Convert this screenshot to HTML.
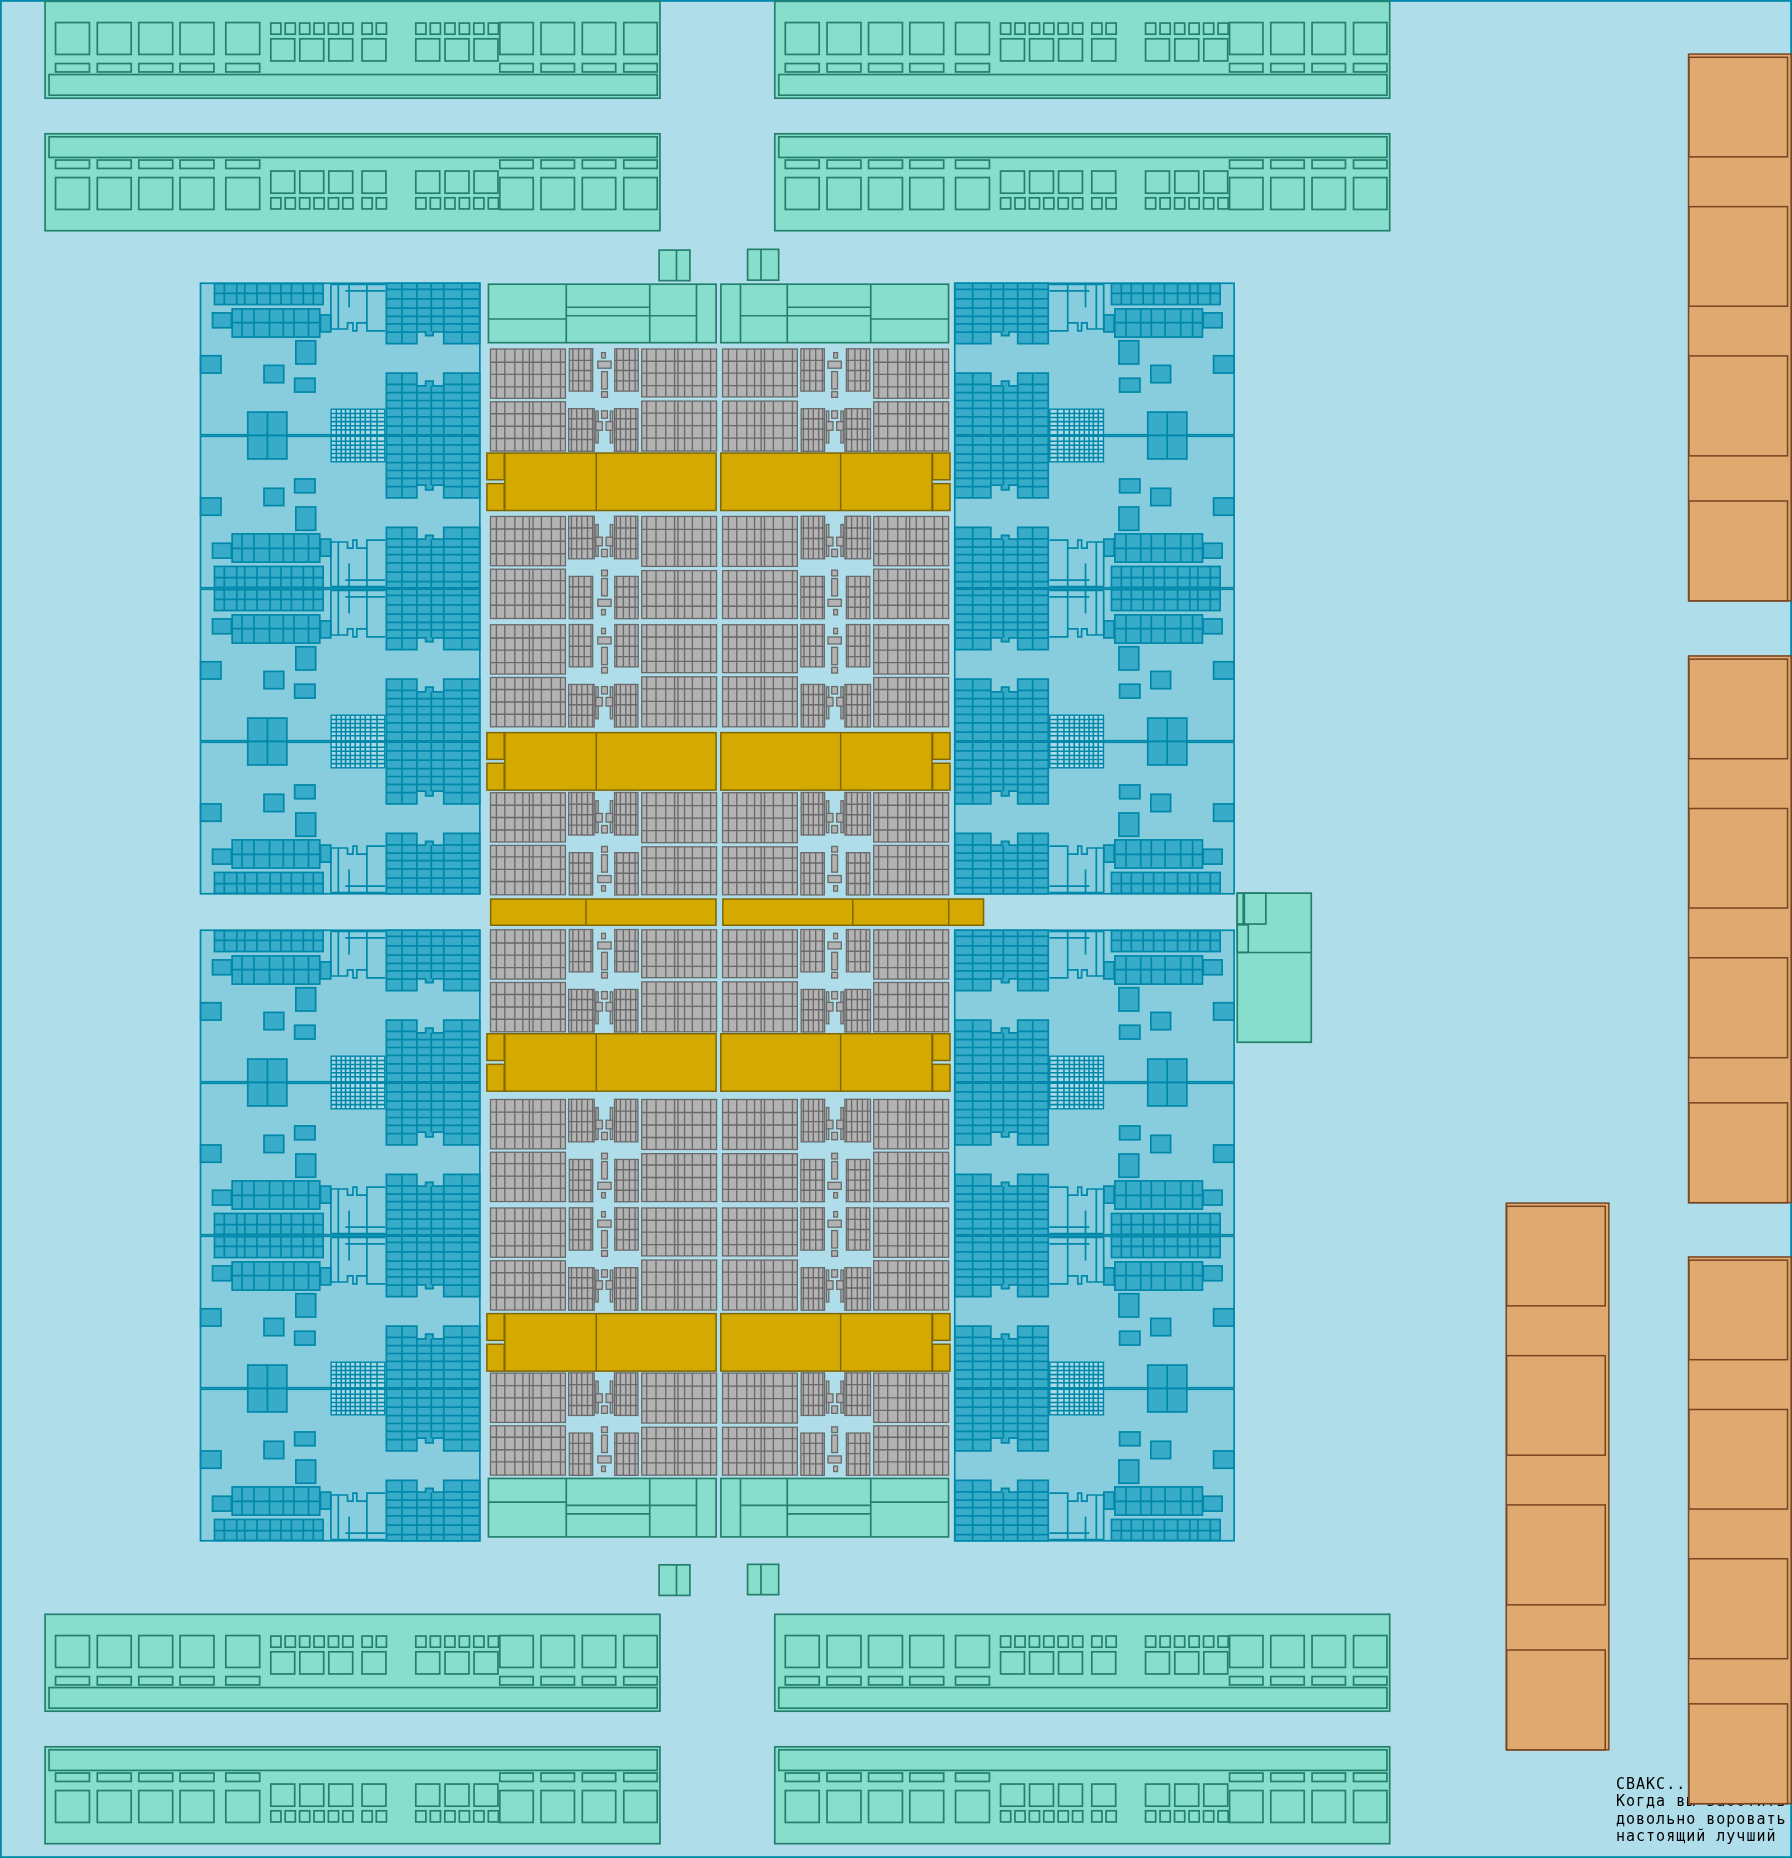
<!DOCTYPE html>
<html lang="ru"><head><meta charset="utf-8"><title>floorplan</title><style>
html,body{margin:0;padding:0;background:#afdde9;}
body{width:1792px;height:1858px;overflow:hidden;}
svg{display:block;will-change:transform}
.bo{fill:#87cdde}
.bl{fill:none}
.gl{fill:none;stroke-width:1.35}
.fg{fill:#abdbe7;stroke-width:1.4}
.fl{fill:none;stroke-width:1.55}
.t{font-family:"DejaVu Sans Mono","Liberation Mono",monospace;font-size:15px;letter-spacing:1px;fill:#000;stroke:none}
</style></head><body><svg width="1792" height="1858" viewBox="0 0 1792 1858"><rect x="0" y="0" width="1792" height="1858" fill="#afdde9"/><rect x=".9" y=".9" width="1790.2" height="1856.2" fill="none" stroke="#0088aa" stroke-width="1.8"/><g fill="#37abc8" stroke="#0088aa" stroke-width="1.7"><g transform="translate(199.75,282.5)"><g><rect class="bo" x="0.75" y="0.75" width="279.35" height="151.5"/><rect x="14.7" y="1.15" width="108.7" height="20.9"/><path class="bl" d="M24.55 1.15V22.05M37.05 1.15V22.05M45.05 1.15V22.05M57.25 1.15V22.05M70.4 1.15V22.05M81.25 1.15V22.05M91.65 1.15V22.05M103.55 1.15V22.05M113.55 1.15V22.05M14.7 10.95H123.4"/><rect x="12.75" y="30.4" width="18.9" height="14.85"/><rect x="120.75" y="32.4" width="10.25" height="17"/><rect x="32.4" y="26.4" width="87.6" height="28.2"/><path class="bl" d="M42.25 26.4V54.6M54.15 26.4V54.6M69.75 26.4V54.6M83.55 26.4V54.6M94.15 26.4V54.6M108.75 26.4V54.6M32.4 40.2H120"/><path class="bl" d="M131.15 1.9V46.5M138.55 1.9V46.5M131.15 46.5H147.75V40.3H153.25V48.3H157.05V40.3H167.15M167.15 1.9V48.3H185.45M145.45 8.4H185.45M149.35 1.9V25.1M131.15 1.9H185.45"/><path d="M186.6 .75H279.9V61.15H244V49.3H233.35V53.15H225.85V49.3H217.15V61.15H186.6Z"/><path class="bl" d="M202.15 .75V61.15M217.15 .75V49.3M231.5 .75V49.3M244 .75V49.3M262.15 .75V61.15M186.6 6.9H279.9M186.6 16.3H279.9M186.6 25.65H279.9M186.6 33.8H279.9M186.6 41.3H279.9M186.6 49.65H217.15M244 49.65H279.9"/><path d="M186.6 152.25H279.9V90.65H244V103.3H233.35V98.65H225.85V103.3H217.15V90.65H186.6Z"/><path class="bl" d="M202.15 152.25V90.65M217.15 152.25V103.3M231.5 152.25V103.3M244 152.25V103.3M262.15 152.25V90.65M186.6 110.15H279.9M186.6 118H279.9M186.6 125.9H279.9M186.6 134.3H279.9M186.6 143.65H279.9M186.6 101.8H217.15M244 101.8H279.9"/><rect x="96.1" y="58.25" width="19.8" height="23.25"/><rect x="0.95" y="73.25" width="20.3" height="17.3"/><rect x="64.25" y="82.9" width="19.75" height="17.3"/><rect x="94.9" y="95.75" width="20.35" height="13.8"/><rect x="48" y="129.55" width="39.1" height="23.45"/><path class="bl" d="M67.65 129.5V153"/><rect class="fg" x="131.4" y="126.7" width="53.65" height="25.7"/><path class="fl" d="M136.6 126.6V153M141.5 126.6V153M145.8 126.6V153M150.5 126.6V153M155.4 126.6V153M160.6 126.6V153M165.5 126.6V153M170.9 126.6V153M177.3 126.6V153M131.3 130.9H185.15M131.3 135H185.15M131.3 139.1H185.15M131.3 143.2H185.15M131.3 147.3H185.15M131.3 152.4H185.15"/></g><g transform="translate(0,306) scale(1,-1)"><rect class="bo" x="0.75" y="0.75" width="279.35" height="151.5"/><rect x="14.7" y="1.15" width="108.7" height="20.9"/><path class="bl" d="M24.55 1.15V22.05M37.05 1.15V22.05M45.05 1.15V22.05M57.25 1.15V22.05M70.4 1.15V22.05M81.25 1.15V22.05M91.65 1.15V22.05M103.55 1.15V22.05M113.55 1.15V22.05M14.7 10.95H123.4"/><rect x="12.75" y="30.4" width="18.9" height="14.85"/><rect x="120.75" y="32.4" width="10.25" height="17"/><rect x="32.4" y="26.4" width="87.6" height="28.2"/><path class="bl" d="M42.25 26.4V54.6M54.15 26.4V54.6M69.75 26.4V54.6M83.55 26.4V54.6M94.15 26.4V54.6M108.75 26.4V54.6M32.4 40.2H120"/><path class="bl" d="M131.15 1.9V46.5M138.55 1.9V46.5M131.15 46.5H147.75V40.3H153.25V48.3H157.05V40.3H167.15M167.15 1.9V48.3H185.45M145.45 8.4H185.45M149.35 1.9V25.1M131.15 1.9H185.45"/><path d="M186.6 .75H279.9V61.15H244V49.3H233.35V53.15H225.85V49.3H217.15V61.15H186.6Z"/><path class="bl" d="M202.15 .75V61.15M217.15 .75V49.3M231.5 .75V49.3M244 .75V49.3M262.15 .75V61.15M186.6 6.9H279.9M186.6 16.3H279.9M186.6 25.65H279.9M186.6 33.8H279.9M186.6 41.3H279.9M186.6 49.65H217.15M244 49.65H279.9"/><path d="M186.6 152.25H279.9V90.65H244V103.3H233.35V98.65H225.85V103.3H217.15V90.65H186.6Z"/><path class="bl" d="M202.15 152.25V90.65M217.15 152.25V103.3M231.5 152.25V103.3M244 152.25V103.3M262.15 152.25V90.65M186.6 110.15H279.9M186.6 118H279.9M186.6 125.9H279.9M186.6 134.3H279.9M186.6 143.65H279.9M186.6 101.8H217.15M244 101.8H279.9"/><rect x="96.1" y="58.25" width="19.8" height="23.25"/><rect x="0.95" y="73.25" width="20.3" height="17.3"/><rect x="64.25" y="82.9" width="19.75" height="17.3"/><rect x="94.9" y="95.75" width="20.35" height="13.8"/><rect x="48" y="129.55" width="39.1" height="23.45"/><path class="bl" d="M67.65 129.5V153"/><rect class="fg" x="131.4" y="126.7" width="53.65" height="25.7"/><path class="fl" d="M136.6 126.6V153M141.5 126.6V153M145.8 126.6V153M150.5 126.6V153M155.4 126.6V153M160.6 126.6V153M165.5 126.6V153M170.9 126.6V153M177.3 126.6V153M131.3 130.9H185.15M131.3 135H185.15M131.3 139.1H185.15M131.3 143.2H185.15M131.3 147.3H185.15M131.3 152.4H185.15"/></g><g transform="translate(0,306)"><rect class="bo" x="0.75" y="0.75" width="279.35" height="151.5"/><rect x="14.7" y="1.15" width="108.7" height="20.9"/><path class="bl" d="M24.55 1.15V22.05M37.05 1.15V22.05M45.05 1.15V22.05M57.25 1.15V22.05M70.4 1.15V22.05M81.25 1.15V22.05M91.65 1.15V22.05M103.55 1.15V22.05M113.55 1.15V22.05M14.7 10.95H123.4"/><rect x="12.75" y="30.4" width="18.9" height="14.85"/><rect x="120.75" y="32.4" width="10.25" height="17"/><rect x="32.4" y="26.4" width="87.6" height="28.2"/><path class="bl" d="M42.25 26.4V54.6M54.15 26.4V54.6M69.75 26.4V54.6M83.55 26.4V54.6M94.15 26.4V54.6M108.75 26.4V54.6M32.4 40.2H120"/><path class="bl" d="M131.15 1.9V46.5M138.55 1.9V46.5M131.15 46.5H147.75V40.3H153.25V48.3H157.05V40.3H167.15M167.15 1.9V48.3H185.45M145.45 8.4H185.45M149.35 1.9V25.1M131.15 1.9H185.45"/><path d="M186.6 .75H279.9V61.15H244V49.3H233.35V53.15H225.85V49.3H217.15V61.15H186.6Z"/><path class="bl" d="M202.15 .75V61.15M217.15 .75V49.3M231.5 .75V49.3M244 .75V49.3M262.15 .75V61.15M186.6 6.9H279.9M186.6 16.3H279.9M186.6 25.65H279.9M186.6 33.8H279.9M186.6 41.3H279.9M186.6 49.65H217.15M244 49.65H279.9"/><path d="M186.6 152.25H279.9V90.65H244V103.3H233.35V98.65H225.85V103.3H217.15V90.65H186.6Z"/><path class="bl" d="M202.15 152.25V90.65M217.15 152.25V103.3M231.5 152.25V103.3M244 152.25V103.3M262.15 152.25V90.65M186.6 110.15H279.9M186.6 118H279.9M186.6 125.9H279.9M186.6 134.3H279.9M186.6 143.65H279.9M186.6 101.8H217.15M244 101.8H279.9"/><rect x="96.1" y="58.25" width="19.8" height="23.25"/><rect x="0.95" y="73.25" width="20.3" height="17.3"/><rect x="64.25" y="82.9" width="19.75" height="17.3"/><rect x="94.9" y="95.75" width="20.35" height="13.8"/><rect x="48" y="129.55" width="39.1" height="23.45"/><path class="bl" d="M67.65 129.5V153"/><rect class="fg" x="131.4" y="126.7" width="53.65" height="25.7"/><path class="fl" d="M136.6 126.6V153M141.5 126.6V153M145.8 126.6V153M150.5 126.6V153M155.4 126.6V153M160.6 126.6V153M165.5 126.6V153M170.9 126.6V153M177.3 126.6V153M131.3 130.9H185.15M131.3 135H185.15M131.3 139.1H185.15M131.3 143.2H185.15M131.3 147.3H185.15M131.3 152.4H185.15"/></g><g transform="translate(0,612) scale(1,-1)"><rect class="bo" x="0.75" y="0.75" width="279.35" height="151.5"/><rect x="14.7" y="1.15" width="108.7" height="20.9"/><path class="bl" d="M24.55 1.15V22.05M37.05 1.15V22.05M45.05 1.15V22.05M57.25 1.15V22.05M70.4 1.15V22.05M81.25 1.15V22.05M91.65 1.15V22.05M103.55 1.15V22.05M113.55 1.15V22.05M14.7 10.95H123.4"/><rect x="12.75" y="30.4" width="18.9" height="14.85"/><rect x="120.75" y="32.4" width="10.25" height="17"/><rect x="32.4" y="26.4" width="87.6" height="28.2"/><path class="bl" d="M42.25 26.4V54.6M54.15 26.4V54.6M69.75 26.4V54.6M83.55 26.4V54.6M94.15 26.4V54.6M108.75 26.4V54.6M32.4 40.2H120"/><path class="bl" d="M131.15 1.9V46.5M138.55 1.9V46.5M131.15 46.5H147.75V40.3H153.25V48.3H157.05V40.3H167.15M167.15 1.9V48.3H185.45M145.45 8.4H185.45M149.35 1.9V25.1M131.15 1.9H185.45"/><path d="M186.6 .75H279.9V61.15H244V49.3H233.35V53.15H225.85V49.3H217.15V61.15H186.6Z"/><path class="bl" d="M202.15 .75V61.15M217.15 .75V49.3M231.5 .75V49.3M244 .75V49.3M262.15 .75V61.15M186.6 6.9H279.9M186.6 16.3H279.9M186.6 25.65H279.9M186.6 33.8H279.9M186.6 41.3H279.9M186.6 49.65H217.15M244 49.65H279.9"/><path d="M186.6 152.25H279.9V90.65H244V103.3H233.35V98.65H225.85V103.3H217.15V90.65H186.6Z"/><path class="bl" d="M202.15 152.25V90.65M217.15 152.25V103.3M231.5 152.25V103.3M244 152.25V103.3M262.15 152.25V90.65M186.6 110.15H279.9M186.6 118H279.9M186.6 125.9H279.9M186.6 134.3H279.9M186.6 143.65H279.9M186.6 101.8H217.15M244 101.8H279.9"/><rect x="96.1" y="58.25" width="19.8" height="23.25"/><rect x="0.95" y="73.25" width="20.3" height="17.3"/><rect x="64.25" y="82.9" width="19.75" height="17.3"/><rect x="94.9" y="95.75" width="20.35" height="13.8"/><rect x="48" y="129.55" width="39.1" height="23.45"/><path class="bl" d="M67.65 129.5V153"/><rect class="fg" x="131.4" y="126.7" width="53.65" height="25.7"/><path class="fl" d="M136.6 126.6V153M141.5 126.6V153M145.8 126.6V153M150.5 126.6V153M155.4 126.6V153M160.6 126.6V153M165.5 126.6V153M170.9 126.6V153M177.3 126.6V153M131.3 130.9H185.15M131.3 135H185.15M131.3 139.1H185.15M131.3 143.2H185.15M131.3 147.3H185.15M131.3 152.4H185.15"/></g></g><g transform="translate(1234.85,282.5) scale(-1,1)"><g><rect class="bo" x="0.75" y="0.75" width="279.35" height="151.5"/><rect x="14.7" y="1.15" width="108.7" height="20.9"/><path class="bl" d="M24.55 1.15V22.05M37.05 1.15V22.05M45.05 1.15V22.05M57.25 1.15V22.05M70.4 1.15V22.05M81.25 1.15V22.05M91.65 1.15V22.05M103.55 1.15V22.05M113.55 1.15V22.05M14.7 10.95H123.4"/><rect x="12.75" y="30.4" width="18.9" height="14.85"/><rect x="120.75" y="32.4" width="10.25" height="17"/><rect x="32.4" y="26.4" width="87.6" height="28.2"/><path class="bl" d="M42.25 26.4V54.6M54.15 26.4V54.6M69.75 26.4V54.6M83.55 26.4V54.6M94.15 26.4V54.6M108.75 26.4V54.6M32.4 40.2H120"/><path class="bl" d="M131.15 1.9V46.5M138.55 1.9V46.5M131.15 46.5H147.75V40.3H153.25V48.3H157.05V40.3H167.15M167.15 1.9V48.3H185.45M145.45 8.4H185.45M149.35 1.9V25.1M131.15 1.9H185.45"/><path d="M186.6 .75H279.9V61.15H244V49.3H233.35V53.15H225.85V49.3H217.15V61.15H186.6Z"/><path class="bl" d="M202.15 .75V61.15M217.15 .75V49.3M231.5 .75V49.3M244 .75V49.3M262.15 .75V61.15M186.6 6.9H279.9M186.6 16.3H279.9M186.6 25.65H279.9M186.6 33.8H279.9M186.6 41.3H279.9M186.6 49.65H217.15M244 49.65H279.9"/><path d="M186.6 152.25H279.9V90.65H244V103.3H233.35V98.65H225.85V103.3H217.15V90.65H186.6Z"/><path class="bl" d="M202.15 152.25V90.65M217.15 152.25V103.3M231.5 152.25V103.3M244 152.25V103.3M262.15 152.25V90.65M186.6 110.15H279.9M186.6 118H279.9M186.6 125.9H279.9M186.6 134.3H279.9M186.6 143.65H279.9M186.6 101.8H217.15M244 101.8H279.9"/><rect x="96.1" y="58.25" width="19.8" height="23.25"/><rect x="0.95" y="73.25" width="20.3" height="17.3"/><rect x="64.25" y="82.9" width="19.75" height="17.3"/><rect x="94.9" y="95.75" width="20.35" height="13.8"/><rect x="48" y="129.55" width="39.1" height="23.45"/><path class="bl" d="M67.65 129.5V153"/><rect class="fg" x="131.4" y="126.7" width="53.65" height="25.7"/><path class="fl" d="M136.6 126.6V153M141.5 126.6V153M145.8 126.6V153M150.5 126.6V153M155.4 126.6V153M160.6 126.6V153M165.5 126.6V153M170.9 126.6V153M177.3 126.6V153M131.3 130.9H185.15M131.3 135H185.15M131.3 139.1H185.15M131.3 143.2H185.15M131.3 147.3H185.15M131.3 152.4H185.15"/></g><g transform="translate(0,306) scale(1,-1)"><rect class="bo" x="0.75" y="0.75" width="279.35" height="151.5"/><rect x="14.7" y="1.15" width="108.7" height="20.9"/><path class="bl" d="M24.55 1.15V22.05M37.05 1.15V22.05M45.05 1.15V22.05M57.25 1.15V22.05M70.4 1.15V22.05M81.25 1.15V22.05M91.65 1.15V22.05M103.55 1.15V22.05M113.55 1.15V22.05M14.7 10.95H123.4"/><rect x="12.75" y="30.4" width="18.9" height="14.85"/><rect x="120.75" y="32.4" width="10.25" height="17"/><rect x="32.4" y="26.4" width="87.6" height="28.2"/><path class="bl" d="M42.25 26.4V54.6M54.15 26.4V54.6M69.75 26.4V54.6M83.55 26.4V54.6M94.15 26.4V54.6M108.75 26.4V54.6M32.4 40.2H120"/><path class="bl" d="M131.15 1.9V46.5M138.55 1.9V46.5M131.15 46.5H147.75V40.3H153.25V48.3H157.05V40.3H167.15M167.15 1.9V48.3H185.45M145.45 8.4H185.45M149.35 1.9V25.1M131.15 1.9H185.45"/><path d="M186.6 .75H279.9V61.15H244V49.3H233.35V53.15H225.85V49.3H217.15V61.15H186.6Z"/><path class="bl" d="M202.15 .75V61.15M217.15 .75V49.3M231.5 .75V49.3M244 .75V49.3M262.15 .75V61.15M186.6 6.9H279.9M186.6 16.3H279.9M186.6 25.65H279.9M186.6 33.8H279.9M186.6 41.3H279.9M186.6 49.65H217.15M244 49.65H279.9"/><path d="M186.6 152.25H279.9V90.65H244V103.3H233.35V98.65H225.85V103.3H217.15V90.65H186.6Z"/><path class="bl" d="M202.15 152.25V90.65M217.15 152.25V103.3M231.5 152.25V103.3M244 152.25V103.3M262.15 152.25V90.65M186.6 110.15H279.9M186.6 118H279.9M186.6 125.9H279.9M186.6 134.3H279.9M186.6 143.65H279.9M186.6 101.8H217.15M244 101.8H279.9"/><rect x="96.1" y="58.25" width="19.8" height="23.25"/><rect x="0.95" y="73.25" width="20.3" height="17.3"/><rect x="64.25" y="82.9" width="19.75" height="17.3"/><rect x="94.9" y="95.75" width="20.35" height="13.8"/><rect x="48" y="129.55" width="39.1" height="23.45"/><path class="bl" d="M67.65 129.5V153"/><rect class="fg" x="131.4" y="126.7" width="53.65" height="25.7"/><path class="fl" d="M136.6 126.6V153M141.5 126.6V153M145.8 126.6V153M150.5 126.6V153M155.4 126.6V153M160.6 126.6V153M165.5 126.6V153M170.9 126.6V153M177.3 126.6V153M131.3 130.9H185.15M131.3 135H185.15M131.3 139.1H185.15M131.3 143.2H185.15M131.3 147.3H185.15M131.3 152.4H185.15"/></g><g transform="translate(0,306)"><rect class="bo" x="0.75" y="0.75" width="279.35" height="151.5"/><rect x="14.7" y="1.15" width="108.7" height="20.9"/><path class="bl" d="M24.55 1.15V22.05M37.05 1.15V22.05M45.05 1.15V22.05M57.25 1.15V22.05M70.4 1.15V22.05M81.25 1.15V22.05M91.65 1.15V22.05M103.55 1.15V22.05M113.55 1.15V22.05M14.7 10.95H123.4"/><rect x="12.75" y="30.4" width="18.9" height="14.85"/><rect x="120.75" y="32.4" width="10.25" height="17"/><rect x="32.4" y="26.4" width="87.6" height="28.2"/><path class="bl" d="M42.25 26.4V54.6M54.15 26.4V54.6M69.75 26.4V54.6M83.55 26.4V54.6M94.15 26.4V54.6M108.75 26.4V54.6M32.4 40.2H120"/><path class="bl" d="M131.15 1.9V46.5M138.55 1.9V46.5M131.15 46.5H147.75V40.3H153.25V48.3H157.05V40.3H167.15M167.15 1.9V48.3H185.45M145.45 8.4H185.45M149.35 1.9V25.1M131.15 1.9H185.45"/><path d="M186.6 .75H279.9V61.15H244V49.3H233.35V53.15H225.85V49.3H217.15V61.15H186.6Z"/><path class="bl" d="M202.15 .75V61.15M217.15 .75V49.3M231.5 .75V49.3M244 .75V49.3M262.15 .75V61.15M186.6 6.9H279.9M186.6 16.3H279.9M186.6 25.65H279.9M186.6 33.8H279.9M186.6 41.3H279.9M186.6 49.65H217.15M244 49.65H279.9"/><path d="M186.6 152.25H279.9V90.65H244V103.3H233.35V98.65H225.85V103.3H217.15V90.65H186.6Z"/><path class="bl" d="M202.15 152.25V90.65M217.15 152.25V103.3M231.5 152.25V103.3M244 152.25V103.3M262.15 152.25V90.65M186.6 110.15H279.9M186.6 118H279.9M186.6 125.9H279.9M186.6 134.3H279.9M186.6 143.65H279.9M186.6 101.8H217.15M244 101.8H279.9"/><rect x="96.1" y="58.25" width="19.8" height="23.25"/><rect x="0.95" y="73.25" width="20.3" height="17.3"/><rect x="64.25" y="82.9" width="19.75" height="17.3"/><rect x="94.9" y="95.75" width="20.35" height="13.8"/><rect x="48" y="129.55" width="39.1" height="23.45"/><path class="bl" d="M67.65 129.5V153"/><rect class="fg" x="131.4" y="126.7" width="53.65" height="25.7"/><path class="fl" d="M136.6 126.6V153M141.5 126.6V153M145.8 126.6V153M150.5 126.6V153M155.4 126.6V153M160.6 126.6V153M165.5 126.6V153M170.9 126.6V153M177.3 126.6V153M131.3 130.9H185.15M131.3 135H185.15M131.3 139.1H185.15M131.3 143.2H185.15M131.3 147.3H185.15M131.3 152.4H185.15"/></g><g transform="translate(0,612) scale(1,-1)"><rect class="bo" x="0.75" y="0.75" width="279.35" height="151.5"/><rect x="14.7" y="1.15" width="108.7" height="20.9"/><path class="bl" d="M24.55 1.15V22.05M37.05 1.15V22.05M45.05 1.15V22.05M57.25 1.15V22.05M70.4 1.15V22.05M81.25 1.15V22.05M91.65 1.15V22.05M103.55 1.15V22.05M113.55 1.15V22.05M14.7 10.95H123.4"/><rect x="12.75" y="30.4" width="18.9" height="14.85"/><rect x="120.75" y="32.4" width="10.25" height="17"/><rect x="32.4" y="26.4" width="87.6" height="28.2"/><path class="bl" d="M42.25 26.4V54.6M54.15 26.4V54.6M69.75 26.4V54.6M83.55 26.4V54.6M94.15 26.4V54.6M108.75 26.4V54.6M32.4 40.2H120"/><path class="bl" d="M131.15 1.9V46.5M138.55 1.9V46.5M131.15 46.5H147.75V40.3H153.25V48.3H157.05V40.3H167.15M167.15 1.9V48.3H185.45M145.45 8.4H185.45M149.35 1.9V25.1M131.15 1.9H185.45"/><path d="M186.6 .75H279.9V61.15H244V49.3H233.35V53.15H225.85V49.3H217.15V61.15H186.6Z"/><path class="bl" d="M202.15 .75V61.15M217.15 .75V49.3M231.5 .75V49.3M244 .75V49.3M262.15 .75V61.15M186.6 6.9H279.9M186.6 16.3H279.9M186.6 25.65H279.9M186.6 33.8H279.9M186.6 41.3H279.9M186.6 49.65H217.15M244 49.65H279.9"/><path d="M186.6 152.25H279.9V90.65H244V103.3H233.35V98.65H225.85V103.3H217.15V90.65H186.6Z"/><path class="bl" d="M202.15 152.25V90.65M217.15 152.25V103.3M231.5 152.25V103.3M244 152.25V103.3M262.15 152.25V90.65M186.6 110.15H279.9M186.6 118H279.9M186.6 125.9H279.9M186.6 134.3H279.9M186.6 143.65H279.9M186.6 101.8H217.15M244 101.8H279.9"/><rect x="96.1" y="58.25" width="19.8" height="23.25"/><rect x="0.95" y="73.25" width="20.3" height="17.3"/><rect x="64.25" y="82.9" width="19.75" height="17.3"/><rect x="94.9" y="95.75" width="20.35" height="13.8"/><rect x="48" y="129.55" width="39.1" height="23.45"/><path class="bl" d="M67.65 129.5V153"/><rect class="fg" x="131.4" y="126.7" width="53.65" height="25.7"/><path class="fl" d="M136.6 126.6V153M141.5 126.6V153M145.8 126.6V153M150.5 126.6V153M155.4 126.6V153M160.6 126.6V153M165.5 126.6V153M170.9 126.6V153M177.3 126.6V153M131.3 130.9H185.15M131.3 135H185.15M131.3 139.1H185.15M131.3 143.2H185.15M131.3 147.3H185.15M131.3 152.4H185.15"/></g></g><g transform="translate(199.75,929.5)"><g><rect class="bo" x="0.75" y="0.75" width="279.35" height="151.5"/><rect x="14.7" y="1.15" width="108.7" height="20.9"/><path class="bl" d="M24.55 1.15V22.05M37.05 1.15V22.05M45.05 1.15V22.05M57.25 1.15V22.05M70.4 1.15V22.05M81.25 1.15V22.05M91.65 1.15V22.05M103.55 1.15V22.05M113.55 1.15V22.05M14.7 10.95H123.4"/><rect x="12.75" y="30.4" width="18.9" height="14.85"/><rect x="120.75" y="32.4" width="10.25" height="17"/><rect x="32.4" y="26.4" width="87.6" height="28.2"/><path class="bl" d="M42.25 26.4V54.6M54.15 26.4V54.6M69.75 26.4V54.6M83.55 26.4V54.6M94.15 26.4V54.6M108.75 26.4V54.6M32.4 40.2H120"/><path class="bl" d="M131.15 1.9V46.5M138.55 1.9V46.5M131.15 46.5H147.75V40.3H153.25V48.3H157.05V40.3H167.15M167.15 1.9V48.3H185.45M145.45 8.4H185.45M149.35 1.9V25.1M131.15 1.9H185.45"/><path d="M186.6 .75H279.9V61.15H244V49.3H233.35V53.15H225.85V49.3H217.15V61.15H186.6Z"/><path class="bl" d="M202.15 .75V61.15M217.15 .75V49.3M231.5 .75V49.3M244 .75V49.3M262.15 .75V61.15M186.6 6.9H279.9M186.6 16.3H279.9M186.6 25.65H279.9M186.6 33.8H279.9M186.6 41.3H279.9M186.6 49.65H217.15M244 49.65H279.9"/><path d="M186.6 152.25H279.9V90.65H244V103.3H233.35V98.65H225.85V103.3H217.15V90.65H186.6Z"/><path class="bl" d="M202.15 152.25V90.65M217.15 152.25V103.3M231.5 152.25V103.3M244 152.25V103.3M262.15 152.25V90.65M186.6 110.15H279.9M186.6 118H279.9M186.6 125.9H279.9M186.6 134.3H279.9M186.6 143.65H279.9M186.6 101.8H217.15M244 101.8H279.9"/><rect x="96.1" y="58.25" width="19.8" height="23.25"/><rect x="0.95" y="73.25" width="20.3" height="17.3"/><rect x="64.25" y="82.9" width="19.75" height="17.3"/><rect x="94.9" y="95.75" width="20.35" height="13.8"/><rect x="48" y="129.55" width="39.1" height="23.45"/><path class="bl" d="M67.65 129.5V153"/><rect class="fg" x="131.4" y="126.7" width="53.65" height="25.7"/><path class="fl" d="M136.6 126.6V153M141.5 126.6V153M145.8 126.6V153M150.5 126.6V153M155.4 126.6V153M160.6 126.6V153M165.5 126.6V153M170.9 126.6V153M177.3 126.6V153M131.3 130.9H185.15M131.3 135H185.15M131.3 139.1H185.15M131.3 143.2H185.15M131.3 147.3H185.15M131.3 152.4H185.15"/></g><g transform="translate(0,306) scale(1,-1)"><rect class="bo" x="0.75" y="0.75" width="279.35" height="151.5"/><rect x="14.7" y="1.15" width="108.7" height="20.9"/><path class="bl" d="M24.55 1.15V22.05M37.05 1.15V22.05M45.05 1.15V22.05M57.25 1.15V22.05M70.4 1.15V22.05M81.25 1.15V22.05M91.65 1.15V22.05M103.55 1.15V22.05M113.55 1.15V22.05M14.7 10.95H123.4"/><rect x="12.75" y="30.4" width="18.9" height="14.85"/><rect x="120.75" y="32.4" width="10.25" height="17"/><rect x="32.4" y="26.4" width="87.6" height="28.2"/><path class="bl" d="M42.25 26.4V54.6M54.15 26.4V54.6M69.75 26.4V54.6M83.55 26.4V54.6M94.15 26.4V54.6M108.75 26.4V54.6M32.4 40.2H120"/><path class="bl" d="M131.15 1.9V46.5M138.55 1.9V46.5M131.15 46.5H147.75V40.3H153.25V48.3H157.05V40.3H167.15M167.15 1.9V48.3H185.45M145.45 8.4H185.45M149.35 1.9V25.1M131.15 1.9H185.45"/><path d="M186.6 .75H279.9V61.15H244V49.3H233.35V53.15H225.85V49.3H217.15V61.15H186.6Z"/><path class="bl" d="M202.15 .75V61.15M217.15 .75V49.3M231.5 .75V49.3M244 .75V49.3M262.15 .75V61.15M186.6 6.9H279.9M186.6 16.3H279.9M186.6 25.65H279.9M186.6 33.8H279.9M186.6 41.3H279.9M186.6 49.65H217.15M244 49.65H279.9"/><path d="M186.6 152.25H279.9V90.65H244V103.3H233.35V98.65H225.85V103.3H217.15V90.65H186.6Z"/><path class="bl" d="M202.15 152.25V90.65M217.15 152.25V103.3M231.5 152.25V103.3M244 152.25V103.3M262.15 152.25V90.65M186.6 110.15H279.9M186.6 118H279.9M186.6 125.9H279.9M186.6 134.3H279.9M186.6 143.65H279.9M186.6 101.8H217.15M244 101.8H279.9"/><rect x="96.1" y="58.25" width="19.8" height="23.25"/><rect x="0.95" y="73.25" width="20.3" height="17.3"/><rect x="64.25" y="82.9" width="19.75" height="17.3"/><rect x="94.9" y="95.75" width="20.35" height="13.8"/><rect x="48" y="129.55" width="39.1" height="23.45"/><path class="bl" d="M67.65 129.5V153"/><rect class="fg" x="131.4" y="126.7" width="53.65" height="25.7"/><path class="fl" d="M136.6 126.6V153M141.5 126.6V153M145.8 126.6V153M150.5 126.6V153M155.4 126.6V153M160.6 126.6V153M165.5 126.6V153M170.9 126.6V153M177.3 126.6V153M131.3 130.9H185.15M131.3 135H185.15M131.3 139.1H185.15M131.3 143.2H185.15M131.3 147.3H185.15M131.3 152.4H185.15"/></g><g transform="translate(0,306)"><rect class="bo" x="0.75" y="0.75" width="279.35" height="151.5"/><rect x="14.7" y="1.15" width="108.7" height="20.9"/><path class="bl" d="M24.55 1.15V22.05M37.05 1.15V22.05M45.05 1.15V22.05M57.25 1.15V22.05M70.4 1.15V22.05M81.25 1.15V22.05M91.65 1.15V22.05M103.55 1.15V22.05M113.55 1.15V22.05M14.7 10.95H123.4"/><rect x="12.75" y="30.4" width="18.9" height="14.85"/><rect x="120.75" y="32.4" width="10.25" height="17"/><rect x="32.4" y="26.4" width="87.6" height="28.2"/><path class="bl" d="M42.25 26.4V54.6M54.15 26.4V54.6M69.75 26.4V54.6M83.55 26.4V54.6M94.15 26.4V54.6M108.75 26.4V54.6M32.4 40.2H120"/><path class="bl" d="M131.15 1.9V46.5M138.55 1.9V46.5M131.15 46.5H147.75V40.3H153.25V48.3H157.05V40.3H167.15M167.15 1.9V48.3H185.45M145.45 8.4H185.45M149.35 1.9V25.1M131.15 1.9H185.45"/><path d="M186.6 .75H279.9V61.15H244V49.3H233.35V53.15H225.85V49.3H217.15V61.15H186.6Z"/><path class="bl" d="M202.15 .75V61.15M217.15 .75V49.3M231.5 .75V49.3M244 .75V49.3M262.15 .75V61.15M186.6 6.9H279.9M186.6 16.3H279.9M186.6 25.65H279.9M186.6 33.8H279.9M186.6 41.3H279.9M186.6 49.65H217.15M244 49.65H279.9"/><path d="M186.6 152.25H279.9V90.65H244V103.3H233.35V98.65H225.85V103.3H217.15V90.65H186.6Z"/><path class="bl" d="M202.15 152.25V90.65M217.15 152.25V103.3M231.5 152.25V103.3M244 152.25V103.3M262.15 152.25V90.65M186.6 110.15H279.9M186.6 118H279.9M186.6 125.9H279.9M186.6 134.3H279.9M186.6 143.65H279.9M186.6 101.8H217.15M244 101.8H279.9"/><rect x="96.1" y="58.25" width="19.8" height="23.25"/><rect x="0.95" y="73.25" width="20.3" height="17.3"/><rect x="64.25" y="82.9" width="19.75" height="17.3"/><rect x="94.9" y="95.75" width="20.35" height="13.8"/><rect x="48" y="129.55" width="39.1" height="23.45"/><path class="bl" d="M67.65 129.5V153"/><rect class="fg" x="131.4" y="126.7" width="53.65" height="25.7"/><path class="fl" d="M136.6 126.6V153M141.5 126.6V153M145.8 126.6V153M150.5 126.6V153M155.4 126.6V153M160.6 126.6V153M165.5 126.6V153M170.9 126.6V153M177.3 126.6V153M131.3 130.9H185.15M131.3 135H185.15M131.3 139.1H185.15M131.3 143.2H185.15M131.3 147.3H185.15M131.3 152.4H185.15"/></g><g transform="translate(0,612) scale(1,-1)"><rect class="bo" x="0.75" y="0.75" width="279.35" height="151.5"/><rect x="14.7" y="1.15" width="108.7" height="20.9"/><path class="bl" d="M24.55 1.15V22.05M37.05 1.15V22.05M45.05 1.15V22.05M57.25 1.15V22.05M70.4 1.15V22.05M81.25 1.15V22.05M91.65 1.15V22.05M103.55 1.15V22.05M113.55 1.15V22.05M14.7 10.95H123.4"/><rect x="12.75" y="30.4" width="18.9" height="14.85"/><rect x="120.75" y="32.4" width="10.25" height="17"/><rect x="32.4" y="26.4" width="87.6" height="28.2"/><path class="bl" d="M42.25 26.4V54.6M54.15 26.4V54.6M69.75 26.4V54.6M83.55 26.4V54.6M94.15 26.4V54.6M108.75 26.4V54.6M32.4 40.2H120"/><path class="bl" d="M131.15 1.9V46.5M138.55 1.9V46.5M131.15 46.5H147.75V40.3H153.25V48.3H157.05V40.3H167.15M167.15 1.9V48.3H185.45M145.45 8.4H185.45M149.35 1.9V25.1M131.15 1.9H185.45"/><path d="M186.6 .75H279.9V61.15H244V49.3H233.35V53.15H225.85V49.3H217.15V61.15H186.6Z"/><path class="bl" d="M202.15 .75V61.15M217.15 .75V49.3M231.5 .75V49.3M244 .75V49.3M262.15 .75V61.15M186.6 6.9H279.9M186.6 16.3H279.9M186.6 25.65H279.9M186.6 33.8H279.9M186.6 41.3H279.9M186.6 49.65H217.15M244 49.65H279.9"/><path d="M186.6 152.25H279.9V90.65H244V103.3H233.35V98.65H225.85V103.3H217.15V90.65H186.6Z"/><path class="bl" d="M202.15 152.25V90.65M217.15 152.25V103.3M231.5 152.25V103.3M244 152.25V103.3M262.15 152.25V90.65M186.6 110.15H279.9M186.6 118H279.9M186.6 125.9H279.9M186.6 134.3H279.9M186.6 143.65H279.9M186.6 101.8H217.15M244 101.8H279.9"/><rect x="96.1" y="58.25" width="19.8" height="23.25"/><rect x="0.95" y="73.25" width="20.3" height="17.3"/><rect x="64.25" y="82.9" width="19.75" height="17.3"/><rect x="94.9" y="95.75" width="20.35" height="13.8"/><rect x="48" y="129.55" width="39.1" height="23.45"/><path class="bl" d="M67.65 129.5V153"/><rect class="fg" x="131.4" y="126.7" width="53.65" height="25.7"/><path class="fl" d="M136.6 126.6V153M141.5 126.6V153M145.8 126.6V153M150.5 126.6V153M155.4 126.6V153M160.6 126.6V153M165.5 126.6V153M170.9 126.6V153M177.3 126.6V153M131.3 130.9H185.15M131.3 135H185.15M131.3 139.1H185.15M131.3 143.2H185.15M131.3 147.3H185.15M131.3 152.4H185.15"/></g></g><g transform="translate(1234.85,929.5) scale(-1,1)"><g><rect class="bo" x="0.75" y="0.75" width="279.35" height="151.5"/><rect x="14.7" y="1.15" width="108.7" height="20.9"/><path class="bl" d="M24.55 1.15V22.05M37.05 1.15V22.05M45.05 1.15V22.05M57.25 1.15V22.05M70.4 1.15V22.05M81.25 1.15V22.05M91.65 1.15V22.05M103.55 1.15V22.05M113.55 1.15V22.05M14.7 10.95H123.4"/><rect x="12.75" y="30.4" width="18.9" height="14.85"/><rect x="120.75" y="32.4" width="10.25" height="17"/><rect x="32.4" y="26.4" width="87.6" height="28.2"/><path class="bl" d="M42.25 26.4V54.6M54.15 26.4V54.6M69.75 26.4V54.6M83.55 26.4V54.6M94.15 26.4V54.6M108.75 26.4V54.6M32.4 40.2H120"/><path class="bl" d="M131.15 1.9V46.5M138.55 1.9V46.5M131.15 46.5H147.75V40.3H153.25V48.3H157.05V40.3H167.15M167.15 1.9V48.3H185.45M145.45 8.4H185.45M149.35 1.9V25.1M131.15 1.9H185.45"/><path d="M186.6 .75H279.9V61.15H244V49.3H233.35V53.15H225.85V49.3H217.15V61.15H186.6Z"/><path class="bl" d="M202.15 .75V61.15M217.15 .75V49.3M231.5 .75V49.3M244 .75V49.3M262.15 .75V61.15M186.6 6.9H279.9M186.6 16.3H279.9M186.6 25.65H279.9M186.6 33.8H279.9M186.6 41.3H279.9M186.6 49.65H217.15M244 49.65H279.9"/><path d="M186.6 152.25H279.9V90.65H244V103.3H233.35V98.65H225.85V103.3H217.15V90.65H186.6Z"/><path class="bl" d="M202.15 152.25V90.65M217.15 152.25V103.3M231.5 152.25V103.3M244 152.25V103.3M262.15 152.25V90.65M186.6 110.15H279.9M186.6 118H279.9M186.6 125.9H279.9M186.6 134.3H279.9M186.6 143.65H279.9M186.6 101.8H217.15M244 101.8H279.9"/><rect x="96.1" y="58.25" width="19.8" height="23.25"/><rect x="0.95" y="73.25" width="20.3" height="17.3"/><rect x="64.25" y="82.9" width="19.75" height="17.3"/><rect x="94.9" y="95.75" width="20.35" height="13.8"/><rect x="48" y="129.55" width="39.1" height="23.45"/><path class="bl" d="M67.65 129.5V153"/><rect class="fg" x="131.4" y="126.7" width="53.65" height="25.7"/><path class="fl" d="M136.6 126.6V153M141.5 126.6V153M145.8 126.6V153M150.5 126.6V153M155.4 126.6V153M160.6 126.6V153M165.5 126.6V153M170.9 126.6V153M177.3 126.6V153M131.3 130.9H185.15M131.3 135H185.15M131.3 139.1H185.15M131.3 143.2H185.15M131.3 147.3H185.15M131.3 152.4H185.15"/></g><g transform="translate(0,306) scale(1,-1)"><rect class="bo" x="0.75" y="0.75" width="279.35" height="151.5"/><rect x="14.7" y="1.15" width="108.7" height="20.9"/><path class="bl" d="M24.55 1.15V22.05M37.05 1.15V22.05M45.05 1.15V22.05M57.25 1.15V22.05M70.4 1.15V22.05M81.25 1.15V22.05M91.65 1.15V22.05M103.55 1.15V22.05M113.55 1.15V22.05M14.7 10.95H123.4"/><rect x="12.75" y="30.4" width="18.9" height="14.85"/><rect x="120.75" y="32.4" width="10.25" height="17"/><rect x="32.4" y="26.4" width="87.6" height="28.2"/><path class="bl" d="M42.25 26.4V54.6M54.15 26.4V54.6M69.75 26.4V54.6M83.55 26.4V54.6M94.15 26.4V54.6M108.75 26.4V54.6M32.4 40.2H120"/><path class="bl" d="M131.15 1.9V46.5M138.55 1.9V46.5M131.15 46.5H147.75V40.3H153.25V48.3H157.05V40.3H167.15M167.15 1.9V48.3H185.45M145.45 8.4H185.45M149.35 1.9V25.1M131.15 1.9H185.45"/><path d="M186.6 .75H279.9V61.15H244V49.3H233.35V53.15H225.85V49.3H217.15V61.15H186.6Z"/><path class="bl" d="M202.15 .75V61.15M217.15 .75V49.3M231.5 .75V49.3M244 .75V49.3M262.15 .75V61.15M186.6 6.9H279.9M186.6 16.3H279.9M186.6 25.65H279.9M186.6 33.8H279.9M186.6 41.3H279.9M186.6 49.65H217.15M244 49.65H279.9"/><path d="M186.6 152.25H279.9V90.65H244V103.3H233.35V98.65H225.85V103.3H217.15V90.65H186.6Z"/><path class="bl" d="M202.15 152.25V90.65M217.15 152.25V103.3M231.5 152.25V103.3M244 152.25V103.3M262.15 152.25V90.65M186.6 110.15H279.9M186.6 118H279.9M186.6 125.9H279.9M186.6 134.3H279.9M186.6 143.65H279.9M186.6 101.8H217.15M244 101.8H279.9"/><rect x="96.1" y="58.25" width="19.8" height="23.25"/><rect x="0.95" y="73.25" width="20.3" height="17.3"/><rect x="64.25" y="82.9" width="19.75" height="17.3"/><rect x="94.9" y="95.75" width="20.35" height="13.8"/><rect x="48" y="129.55" width="39.1" height="23.45"/><path class="bl" d="M67.65 129.5V153"/><rect class="fg" x="131.4" y="126.7" width="53.65" height="25.7"/><path class="fl" d="M136.6 126.6V153M141.5 126.6V153M145.8 126.6V153M150.5 126.6V153M155.4 126.6V153M160.6 126.6V153M165.5 126.6V153M170.9 126.6V153M177.3 126.6V153M131.3 130.9H185.15M131.3 135H185.15M131.3 139.1H185.15M131.3 143.2H185.15M131.3 147.3H185.15M131.3 152.4H185.15"/></g><g transform="translate(0,306)"><rect class="bo" x="0.75" y="0.75" width="279.35" height="151.5"/><rect x="14.7" y="1.15" width="108.7" height="20.9"/><path class="bl" d="M24.55 1.15V22.05M37.05 1.15V22.05M45.05 1.15V22.05M57.25 1.15V22.05M70.4 1.15V22.05M81.25 1.15V22.05M91.65 1.15V22.05M103.55 1.15V22.05M113.55 1.15V22.05M14.7 10.95H123.4"/><rect x="12.75" y="30.4" width="18.9" height="14.85"/><rect x="120.75" y="32.4" width="10.25" height="17"/><rect x="32.4" y="26.4" width="87.6" height="28.2"/><path class="bl" d="M42.25 26.4V54.6M54.15 26.4V54.6M69.75 26.4V54.6M83.55 26.4V54.6M94.15 26.4V54.6M108.75 26.4V54.6M32.4 40.2H120"/><path class="bl" d="M131.15 1.9V46.5M138.55 1.9V46.5M131.15 46.5H147.75V40.3H153.25V48.3H157.05V40.3H167.15M167.15 1.9V48.3H185.45M145.45 8.4H185.45M149.35 1.9V25.1M131.15 1.9H185.45"/><path d="M186.6 .75H279.9V61.15H244V49.3H233.35V53.15H225.85V49.3H217.15V61.15H186.6Z"/><path class="bl" d="M202.15 .75V61.15M217.15 .75V49.3M231.5 .75V49.3M244 .75V49.3M262.15 .75V61.15M186.6 6.9H279.9M186.6 16.3H279.9M186.6 25.65H279.9M186.6 33.8H279.9M186.6 41.3H279.9M186.6 49.65H217.15M244 49.65H279.9"/><path d="M186.6 152.25H279.9V90.65H244V103.3H233.35V98.65H225.85V103.3H217.15V90.65H186.6Z"/><path class="bl" d="M202.15 152.25V90.65M217.15 152.25V103.3M231.5 152.25V103.3M244 152.25V103.3M262.15 152.25V90.65M186.6 110.15H279.9M186.6 118H279.9M186.6 125.9H279.9M186.6 134.3H279.9M186.6 143.65H279.9M186.6 101.8H217.15M244 101.8H279.9"/><rect x="96.1" y="58.25" width="19.8" height="23.25"/><rect x="0.95" y="73.25" width="20.3" height="17.3"/><rect x="64.25" y="82.9" width="19.75" height="17.3"/><rect x="94.9" y="95.75" width="20.35" height="13.8"/><rect x="48" y="129.55" width="39.1" height="23.45"/><path class="bl" d="M67.65 129.5V153"/><rect class="fg" x="131.4" y="126.7" width="53.65" height="25.7"/><path class="fl" d="M136.6 126.6V153M141.5 126.6V153M145.8 126.6V153M150.5 126.6V153M155.4 126.6V153M160.6 126.6V153M165.5 126.6V153M170.9 126.6V153M177.3 126.6V153M131.3 130.9H185.15M131.3 135H185.15M131.3 139.1H185.15M131.3 143.2H185.15M131.3 147.3H185.15M131.3 152.4H185.15"/></g><g transform="translate(0,612) scale(1,-1)"><rect class="bo" x="0.75" y="0.75" width="279.35" height="151.5"/><rect x="14.7" y="1.15" width="108.7" height="20.9"/><path class="bl" d="M24.55 1.15V22.05M37.05 1.15V22.05M45.05 1.15V22.05M57.25 1.15V22.05M70.4 1.15V22.05M81.25 1.15V22.05M91.65 1.15V22.05M103.55 1.15V22.05M113.55 1.15V22.05M14.7 10.95H123.4"/><rect x="12.75" y="30.4" width="18.9" height="14.85"/><rect x="120.75" y="32.4" width="10.25" height="17"/><rect x="32.4" y="26.4" width="87.6" height="28.2"/><path class="bl" d="M42.25 26.4V54.6M54.15 26.4V54.6M69.75 26.4V54.6M83.55 26.4V54.6M94.15 26.4V54.6M108.75 26.4V54.6M32.4 40.2H120"/><path class="bl" d="M131.15 1.9V46.5M138.55 1.9V46.5M131.15 46.5H147.75V40.3H153.25V48.3H157.05V40.3H167.15M167.15 1.9V48.3H185.45M145.45 8.4H185.45M149.35 1.9V25.1M131.15 1.9H185.45"/><path d="M186.6 .75H279.9V61.15H244V49.3H233.35V53.15H225.85V49.3H217.15V61.15H186.6Z"/><path class="bl" d="M202.15 .75V61.15M217.15 .75V49.3M231.5 .75V49.3M244 .75V49.3M262.15 .75V61.15M186.6 6.9H279.9M186.6 16.3H279.9M186.6 25.65H279.9M186.6 33.8H279.9M186.6 41.3H279.9M186.6 49.65H217.15M244 49.65H279.9"/><path d="M186.6 152.25H279.9V90.65H244V103.3H233.35V98.65H225.85V103.3H217.15V90.65H186.6Z"/><path class="bl" d="M202.15 152.25V90.65M217.15 152.25V103.3M231.5 152.25V103.3M244 152.25V103.3M262.15 152.25V90.65M186.6 110.15H279.9M186.6 118H279.9M186.6 125.9H279.9M186.6 134.3H279.9M186.6 143.65H279.9M186.6 101.8H217.15M244 101.8H279.9"/><rect x="96.1" y="58.25" width="19.8" height="23.25"/><rect x="0.95" y="73.25" width="20.3" height="17.3"/><rect x="64.25" y="82.9" width="19.75" height="17.3"/><rect x="94.9" y="95.75" width="20.35" height="13.8"/><rect x="48" y="129.55" width="39.1" height="23.45"/><path class="bl" d="M67.65 129.5V153"/><rect class="fg" x="131.4" y="126.7" width="53.65" height="25.7"/><path class="fl" d="M136.6 126.6V153M141.5 126.6V153M145.8 126.6V153M150.5 126.6V153M155.4 126.6V153M160.6 126.6V153M165.5 126.6V153M170.9 126.6V153M177.3 126.6V153M131.3 130.9H185.15M131.3 135H185.15M131.3 139.1H185.15M131.3 143.2H185.15M131.3 147.3H185.15M131.3 152.4H185.15"/></g></g></g>
<g fill="#87decd" stroke="#24806c" stroke-width="1.7" transform="translate(44.5,98.75) scale(1,-1)"><rect x="0.55" y="0.55" width="614.9" height="96.9"/><rect x="4.55" y="3.55" width="608.15" height="20.65"/><rect x="11.05" y="26.8" width="33.9" height="8.4"/><rect x="11.05" y="44.3" width="33.9" height="31.9"/><rect x="52.8" y="26.8" width="33.9" height="8.4"/><rect x="52.8" y="44.3" width="33.9" height="31.9"/><rect x="94.3" y="26.8" width="33.9" height="8.4"/><rect x="94.3" y="44.3" width="33.9" height="31.9"/><rect x="135.55" y="26.8" width="33.9" height="8.4"/><rect x="135.55" y="44.3" width="33.9" height="31.9"/><rect x="181.3" y="26.8" width="33.9" height="8.4"/><rect x="181.3" y="44.3" width="33.9" height="31.9"/><rect x="455.3" y="26.8" width="33.4" height="8.4"/><rect x="455.3" y="44.3" width="33.4" height="31.9"/><rect x="496.55" y="26.8" width="33.4" height="8.4"/><rect x="496.55" y="44.3" width="33.4" height="31.9"/><rect x="537.8" y="26.8" width="33.4" height="8.4"/><rect x="537.8" y="44.3" width="33.4" height="31.9"/><rect x="579.3" y="26.8" width="33.4" height="8.4"/><rect x="579.3" y="44.3" width="33.4" height="31.9"/><rect x="226.3" y="37.8" width="23.9" height="22.15"/><rect x="255.3" y="37.8" width="23.9" height="22.15"/><rect x="284.3" y="37.8" width="23.9" height="22.15"/><rect x="317.55" y="37.8" width="23.9" height="22.15"/><rect x="371.3" y="37.8" width="23.9" height="22.15"/><rect x="400.55" y="37.8" width="23.9" height="22.15"/><rect x="429.55" y="37.8" width="23.9" height="22.15"/><rect x="226.3" y="64.55" width="10.15" height="11.15"/><rect x="240.7" y="64.55" width="10.15" height="11.15"/><rect x="255.1" y="64.55" width="10.15" height="11.15"/><rect x="269.5" y="64.55" width="10.15" height="11.15"/><rect x="283.9" y="64.55" width="10.15" height="11.15"/><rect x="298.3" y="64.55" width="10.15" height="11.15"/><rect x="317.55" y="64.55" width="10.15" height="11.15"/><rect x="331.8" y="64.55" width="10.15" height="11.15"/><rect x="371.3" y="64.55" width="10.15" height="11.15"/><rect x="385.8" y="64.55" width="10.15" height="11.15"/><rect x="400.3" y="64.55" width="10.15" height="11.15"/><rect x="414.8" y="64.55" width="10.15" height="11.15"/><rect x="429.3" y="64.55" width="10.15" height="11.15"/><rect x="443.8" y="64.55" width="10.15" height="11.15"/></g>
<g fill="#87decd" stroke="#24806c" stroke-width="1.7" transform="translate(44.5,133.25)"><rect x="0.55" y="0.55" width="614.9" height="96.9"/><rect x="4.55" y="3.55" width="608.15" height="20.65"/><rect x="11.05" y="26.8" width="33.9" height="8.4"/><rect x="11.05" y="44.3" width="33.9" height="31.9"/><rect x="52.8" y="26.8" width="33.9" height="8.4"/><rect x="52.8" y="44.3" width="33.9" height="31.9"/><rect x="94.3" y="26.8" width="33.9" height="8.4"/><rect x="94.3" y="44.3" width="33.9" height="31.9"/><rect x="135.55" y="26.8" width="33.9" height="8.4"/><rect x="135.55" y="44.3" width="33.9" height="31.9"/><rect x="181.3" y="26.8" width="33.9" height="8.4"/><rect x="181.3" y="44.3" width="33.9" height="31.9"/><rect x="455.3" y="26.8" width="33.4" height="8.4"/><rect x="455.3" y="44.3" width="33.4" height="31.9"/><rect x="496.55" y="26.8" width="33.4" height="8.4"/><rect x="496.55" y="44.3" width="33.4" height="31.9"/><rect x="537.8" y="26.8" width="33.4" height="8.4"/><rect x="537.8" y="44.3" width="33.4" height="31.9"/><rect x="579.3" y="26.8" width="33.4" height="8.4"/><rect x="579.3" y="44.3" width="33.4" height="31.9"/><rect x="226.3" y="37.8" width="23.9" height="22.15"/><rect x="255.3" y="37.8" width="23.9" height="22.15"/><rect x="284.3" y="37.8" width="23.9" height="22.15"/><rect x="317.55" y="37.8" width="23.9" height="22.15"/><rect x="371.3" y="37.8" width="23.9" height="22.15"/><rect x="400.55" y="37.8" width="23.9" height="22.15"/><rect x="429.55" y="37.8" width="23.9" height="22.15"/><rect x="226.3" y="64.55" width="10.15" height="11.15"/><rect x="240.7" y="64.55" width="10.15" height="11.15"/><rect x="255.1" y="64.55" width="10.15" height="11.15"/><rect x="269.5" y="64.55" width="10.15" height="11.15"/><rect x="283.9" y="64.55" width="10.15" height="11.15"/><rect x="298.3" y="64.55" width="10.15" height="11.15"/><rect x="317.55" y="64.55" width="10.15" height="11.15"/><rect x="331.8" y="64.55" width="10.15" height="11.15"/><rect x="371.3" y="64.55" width="10.15" height="11.15"/><rect x="385.8" y="64.55" width="10.15" height="11.15"/><rect x="400.3" y="64.55" width="10.15" height="11.15"/><rect x="414.8" y="64.55" width="10.15" height="11.15"/><rect x="429.3" y="64.55" width="10.15" height="11.15"/><rect x="443.8" y="64.55" width="10.15" height="11.15"/></g>
<g fill="#87decd" stroke="#24806c" stroke-width="1.7" transform="translate(44.5,1711.75) scale(1,-1)"><rect x="0.55" y="0.55" width="614.9" height="96.9"/><rect x="4.55" y="3.55" width="608.15" height="20.65"/><rect x="11.05" y="26.8" width="33.9" height="8.4"/><rect x="11.05" y="44.3" width="33.9" height="31.9"/><rect x="52.8" y="26.8" width="33.9" height="8.4"/><rect x="52.8" y="44.3" width="33.9" height="31.9"/><rect x="94.3" y="26.8" width="33.9" height="8.4"/><rect x="94.3" y="44.3" width="33.9" height="31.9"/><rect x="135.55" y="26.8" width="33.9" height="8.4"/><rect x="135.55" y="44.3" width="33.9" height="31.9"/><rect x="181.3" y="26.8" width="33.9" height="8.4"/><rect x="181.3" y="44.3" width="33.9" height="31.9"/><rect x="455.3" y="26.8" width="33.4" height="8.4"/><rect x="455.3" y="44.3" width="33.4" height="31.9"/><rect x="496.55" y="26.8" width="33.4" height="8.4"/><rect x="496.55" y="44.3" width="33.4" height="31.9"/><rect x="537.8" y="26.8" width="33.4" height="8.4"/><rect x="537.8" y="44.3" width="33.4" height="31.9"/><rect x="579.3" y="26.8" width="33.4" height="8.4"/><rect x="579.3" y="44.3" width="33.4" height="31.9"/><rect x="226.3" y="37.8" width="23.9" height="22.15"/><rect x="255.3" y="37.8" width="23.9" height="22.15"/><rect x="284.3" y="37.8" width="23.9" height="22.15"/><rect x="317.55" y="37.8" width="23.9" height="22.15"/><rect x="371.3" y="37.8" width="23.9" height="22.15"/><rect x="400.55" y="37.8" width="23.9" height="22.15"/><rect x="429.55" y="37.8" width="23.9" height="22.15"/><rect x="226.3" y="64.55" width="10.15" height="11.15"/><rect x="240.7" y="64.55" width="10.15" height="11.15"/><rect x="255.1" y="64.55" width="10.15" height="11.15"/><rect x="269.5" y="64.55" width="10.15" height="11.15"/><rect x="283.9" y="64.55" width="10.15" height="11.15"/><rect x="298.3" y="64.55" width="10.15" height="11.15"/><rect x="317.55" y="64.55" width="10.15" height="11.15"/><rect x="331.8" y="64.55" width="10.15" height="11.15"/><rect x="371.3" y="64.55" width="10.15" height="11.15"/><rect x="385.8" y="64.55" width="10.15" height="11.15"/><rect x="400.3" y="64.55" width="10.15" height="11.15"/><rect x="414.8" y="64.55" width="10.15" height="11.15"/><rect x="429.3" y="64.55" width="10.15" height="11.15"/><rect x="443.8" y="64.55" width="10.15" height="11.15"/></g>
<g fill="#87decd" stroke="#24806c" stroke-width="1.7" transform="translate(44.5,1746.25)"><rect x="0.55" y="0.55" width="614.9" height="96.9"/><rect x="4.55" y="3.55" width="608.15" height="20.65"/><rect x="11.05" y="26.8" width="33.9" height="8.4"/><rect x="11.05" y="44.3" width="33.9" height="31.9"/><rect x="52.8" y="26.8" width="33.9" height="8.4"/><rect x="52.8" y="44.3" width="33.9" height="31.9"/><rect x="94.3" y="26.8" width="33.9" height="8.4"/><rect x="94.3" y="44.3" width="33.9" height="31.9"/><rect x="135.55" y="26.8" width="33.9" height="8.4"/><rect x="135.55" y="44.3" width="33.9" height="31.9"/><rect x="181.3" y="26.8" width="33.9" height="8.4"/><rect x="181.3" y="44.3" width="33.9" height="31.9"/><rect x="455.3" y="26.8" width="33.4" height="8.4"/><rect x="455.3" y="44.3" width="33.4" height="31.9"/><rect x="496.55" y="26.8" width="33.4" height="8.4"/><rect x="496.55" y="44.3" width="33.4" height="31.9"/><rect x="537.8" y="26.8" width="33.4" height="8.4"/><rect x="537.8" y="44.3" width="33.4" height="31.9"/><rect x="579.3" y="26.8" width="33.4" height="8.4"/><rect x="579.3" y="44.3" width="33.4" height="31.9"/><rect x="226.3" y="37.8" width="23.9" height="22.15"/><rect x="255.3" y="37.8" width="23.9" height="22.15"/><rect x="284.3" y="37.8" width="23.9" height="22.15"/><rect x="317.55" y="37.8" width="23.9" height="22.15"/><rect x="371.3" y="37.8" width="23.9" height="22.15"/><rect x="400.55" y="37.8" width="23.9" height="22.15"/><rect x="429.55" y="37.8" width="23.9" height="22.15"/><rect x="226.3" y="64.55" width="10.15" height="11.15"/><rect x="240.7" y="64.55" width="10.15" height="11.15"/><rect x="255.1" y="64.55" width="10.15" height="11.15"/><rect x="269.5" y="64.55" width="10.15" height="11.15"/><rect x="283.9" y="64.55" width="10.15" height="11.15"/><rect x="298.3" y="64.55" width="10.15" height="11.15"/><rect x="317.55" y="64.55" width="10.15" height="11.15"/><rect x="331.8" y="64.55" width="10.15" height="11.15"/><rect x="371.3" y="64.55" width="10.15" height="11.15"/><rect x="385.8" y="64.55" width="10.15" height="11.15"/><rect x="400.3" y="64.55" width="10.15" height="11.15"/><rect x="414.8" y="64.55" width="10.15" height="11.15"/><rect x="429.3" y="64.55" width="10.15" height="11.15"/><rect x="443.8" y="64.55" width="10.15" height="11.15"/></g>
<g fill="#87decd" stroke="#24806c" stroke-width="1.7" transform="translate(774.25,98.75) scale(1,-1)"><rect x="0.55" y="0.55" width="614.9" height="96.9"/><rect x="4.55" y="3.55" width="608.15" height="20.65"/><rect x="11.05" y="26.8" width="33.9" height="8.4"/><rect x="11.05" y="44.3" width="33.9" height="31.9"/><rect x="52.8" y="26.8" width="33.9" height="8.4"/><rect x="52.8" y="44.3" width="33.9" height="31.9"/><rect x="94.3" y="26.8" width="33.9" height="8.4"/><rect x="94.3" y="44.3" width="33.9" height="31.9"/><rect x="135.55" y="26.8" width="33.9" height="8.4"/><rect x="135.55" y="44.3" width="33.9" height="31.9"/><rect x="181.3" y="26.8" width="33.9" height="8.4"/><rect x="181.3" y="44.3" width="33.9" height="31.9"/><rect x="455.3" y="26.8" width="33.4" height="8.4"/><rect x="455.3" y="44.3" width="33.4" height="31.9"/><rect x="496.55" y="26.8" width="33.4" height="8.4"/><rect x="496.55" y="44.3" width="33.4" height="31.9"/><rect x="537.8" y="26.8" width="33.4" height="8.4"/><rect x="537.8" y="44.3" width="33.4" height="31.9"/><rect x="579.3" y="26.8" width="33.4" height="8.4"/><rect x="579.3" y="44.3" width="33.4" height="31.9"/><rect x="226.3" y="37.8" width="23.9" height="22.15"/><rect x="255.3" y="37.8" width="23.9" height="22.15"/><rect x="284.3" y="37.8" width="23.9" height="22.15"/><rect x="317.55" y="37.8" width="23.9" height="22.15"/><rect x="371.3" y="37.8" width="23.9" height="22.15"/><rect x="400.55" y="37.8" width="23.9" height="22.15"/><rect x="429.55" y="37.8" width="23.9" height="22.15"/><rect x="226.3" y="64.55" width="10.15" height="11.15"/><rect x="240.7" y="64.55" width="10.15" height="11.15"/><rect x="255.1" y="64.55" width="10.15" height="11.15"/><rect x="269.5" y="64.55" width="10.15" height="11.15"/><rect x="283.9" y="64.55" width="10.15" height="11.15"/><rect x="298.3" y="64.55" width="10.15" height="11.15"/><rect x="317.55" y="64.55" width="10.15" height="11.15"/><rect x="331.8" y="64.55" width="10.15" height="11.15"/><rect x="371.3" y="64.55" width="10.15" height="11.15"/><rect x="385.8" y="64.55" width="10.15" height="11.15"/><rect x="400.3" y="64.55" width="10.15" height="11.15"/><rect x="414.8" y="64.55" width="10.15" height="11.15"/><rect x="429.3" y="64.55" width="10.15" height="11.15"/><rect x="443.8" y="64.55" width="10.15" height="11.15"/></g>
<g fill="#87decd" stroke="#24806c" stroke-width="1.7" transform="translate(774.25,133.25)"><rect x="0.55" y="0.55" width="614.9" height="96.9"/><rect x="4.55" y="3.55" width="608.15" height="20.65"/><rect x="11.05" y="26.8" width="33.9" height="8.4"/><rect x="11.05" y="44.3" width="33.9" height="31.9"/><rect x="52.8" y="26.8" width="33.9" height="8.4"/><rect x="52.8" y="44.3" width="33.9" height="31.9"/><rect x="94.3" y="26.8" width="33.9" height="8.4"/><rect x="94.3" y="44.3" width="33.9" height="31.9"/><rect x="135.55" y="26.8" width="33.9" height="8.4"/><rect x="135.55" y="44.3" width="33.9" height="31.9"/><rect x="181.3" y="26.8" width="33.9" height="8.4"/><rect x="181.3" y="44.3" width="33.9" height="31.9"/><rect x="455.3" y="26.8" width="33.4" height="8.4"/><rect x="455.3" y="44.3" width="33.4" height="31.9"/><rect x="496.55" y="26.8" width="33.4" height="8.4"/><rect x="496.55" y="44.3" width="33.4" height="31.9"/><rect x="537.8" y="26.8" width="33.4" height="8.4"/><rect x="537.8" y="44.3" width="33.4" height="31.9"/><rect x="579.3" y="26.8" width="33.4" height="8.4"/><rect x="579.3" y="44.3" width="33.4" height="31.9"/><rect x="226.3" y="37.8" width="23.9" height="22.15"/><rect x="255.3" y="37.8" width="23.9" height="22.15"/><rect x="284.3" y="37.8" width="23.9" height="22.15"/><rect x="317.55" y="37.8" width="23.9" height="22.15"/><rect x="371.3" y="37.8" width="23.9" height="22.15"/><rect x="400.55" y="37.8" width="23.9" height="22.15"/><rect x="429.55" y="37.8" width="23.9" height="22.15"/><rect x="226.3" y="64.55" width="10.15" height="11.15"/><rect x="240.7" y="64.55" width="10.15" height="11.15"/><rect x="255.1" y="64.55" width="10.15" height="11.15"/><rect x="269.5" y="64.55" width="10.15" height="11.15"/><rect x="283.9" y="64.55" width="10.15" height="11.15"/><rect x="298.3" y="64.55" width="10.15" height="11.15"/><rect x="317.55" y="64.55" width="10.15" height="11.15"/><rect x="331.8" y="64.55" width="10.15" height="11.15"/><rect x="371.3" y="64.55" width="10.15" height="11.15"/><rect x="385.8" y="64.55" width="10.15" height="11.15"/><rect x="400.3" y="64.55" width="10.15" height="11.15"/><rect x="414.8" y="64.55" width="10.15" height="11.15"/><rect x="429.3" y="64.55" width="10.15" height="11.15"/><rect x="443.8" y="64.55" width="10.15" height="11.15"/></g>
<g fill="#87decd" stroke="#24806c" stroke-width="1.7" transform="translate(774.25,1711.75) scale(1,-1)"><rect x="0.55" y="0.55" width="614.9" height="96.9"/><rect x="4.55" y="3.55" width="608.15" height="20.65"/><rect x="11.05" y="26.8" width="33.9" height="8.4"/><rect x="11.05" y="44.3" width="33.9" height="31.9"/><rect x="52.8" y="26.8" width="33.9" height="8.4"/><rect x="52.8" y="44.3" width="33.9" height="31.9"/><rect x="94.3" y="26.8" width="33.9" height="8.4"/><rect x="94.3" y="44.3" width="33.9" height="31.9"/><rect x="135.55" y="26.8" width="33.9" height="8.4"/><rect x="135.55" y="44.3" width="33.9" height="31.9"/><rect x="181.3" y="26.8" width="33.9" height="8.4"/><rect x="181.3" y="44.3" width="33.9" height="31.9"/><rect x="455.3" y="26.8" width="33.4" height="8.4"/><rect x="455.3" y="44.3" width="33.4" height="31.9"/><rect x="496.55" y="26.8" width="33.4" height="8.4"/><rect x="496.55" y="44.3" width="33.4" height="31.9"/><rect x="537.8" y="26.8" width="33.4" height="8.4"/><rect x="537.8" y="44.3" width="33.4" height="31.9"/><rect x="579.3" y="26.8" width="33.4" height="8.4"/><rect x="579.3" y="44.3" width="33.4" height="31.9"/><rect x="226.3" y="37.8" width="23.9" height="22.15"/><rect x="255.3" y="37.8" width="23.9" height="22.15"/><rect x="284.3" y="37.8" width="23.9" height="22.15"/><rect x="317.55" y="37.8" width="23.9" height="22.15"/><rect x="371.3" y="37.8" width="23.9" height="22.15"/><rect x="400.55" y="37.8" width="23.9" height="22.15"/><rect x="429.55" y="37.8" width="23.9" height="22.15"/><rect x="226.3" y="64.55" width="10.15" height="11.15"/><rect x="240.7" y="64.55" width="10.15" height="11.15"/><rect x="255.1" y="64.55" width="10.15" height="11.15"/><rect x="269.5" y="64.55" width="10.15" height="11.15"/><rect x="283.9" y="64.55" width="10.15" height="11.15"/><rect x="298.3" y="64.55" width="10.15" height="11.15"/><rect x="317.55" y="64.55" width="10.15" height="11.15"/><rect x="331.8" y="64.55" width="10.15" height="11.15"/><rect x="371.3" y="64.55" width="10.15" height="11.15"/><rect x="385.8" y="64.55" width="10.15" height="11.15"/><rect x="400.3" y="64.55" width="10.15" height="11.15"/><rect x="414.8" y="64.55" width="10.15" height="11.15"/><rect x="429.3" y="64.55" width="10.15" height="11.15"/><rect x="443.8" y="64.55" width="10.15" height="11.15"/></g>
<g fill="#87decd" stroke="#24806c" stroke-width="1.7" transform="translate(774.25,1746.25)"><rect x="0.55" y="0.55" width="614.9" height="96.9"/><rect x="4.55" y="3.55" width="608.15" height="20.65"/><rect x="11.05" y="26.8" width="33.9" height="8.4"/><rect x="11.05" y="44.3" width="33.9" height="31.9"/><rect x="52.8" y="26.8" width="33.9" height="8.4"/><rect x="52.8" y="44.3" width="33.9" height="31.9"/><rect x="94.3" y="26.8" width="33.9" height="8.4"/><rect x="94.3" y="44.3" width="33.9" height="31.9"/><rect x="135.55" y="26.8" width="33.9" height="8.4"/><rect x="135.55" y="44.3" width="33.9" height="31.9"/><rect x="181.3" y="26.8" width="33.9" height="8.4"/><rect x="181.3" y="44.3" width="33.9" height="31.9"/><rect x="455.3" y="26.8" width="33.4" height="8.4"/><rect x="455.3" y="44.3" width="33.4" height="31.9"/><rect x="496.55" y="26.8" width="33.4" height="8.4"/><rect x="496.55" y="44.3" width="33.4" height="31.9"/><rect x="537.8" y="26.8" width="33.4" height="8.4"/><rect x="537.8" y="44.3" width="33.4" height="31.9"/><rect x="579.3" y="26.8" width="33.4" height="8.4"/><rect x="579.3" y="44.3" width="33.4" height="31.9"/><rect x="226.3" y="37.8" width="23.9" height="22.15"/><rect x="255.3" y="37.8" width="23.9" height="22.15"/><rect x="284.3" y="37.8" width="23.9" height="22.15"/><rect x="317.55" y="37.8" width="23.9" height="22.15"/><rect x="371.3" y="37.8" width="23.9" height="22.15"/><rect x="400.55" y="37.8" width="23.9" height="22.15"/><rect x="429.55" y="37.8" width="23.9" height="22.15"/><rect x="226.3" y="64.55" width="10.15" height="11.15"/><rect x="240.7" y="64.55" width="10.15" height="11.15"/><rect x="255.1" y="64.55" width="10.15" height="11.15"/><rect x="269.5" y="64.55" width="10.15" height="11.15"/><rect x="283.9" y="64.55" width="10.15" height="11.15"/><rect x="298.3" y="64.55" width="10.15" height="11.15"/><rect x="317.55" y="64.55" width="10.15" height="11.15"/><rect x="331.8" y="64.55" width="10.15" height="11.15"/><rect x="371.3" y="64.55" width="10.15" height="11.15"/><rect x="385.8" y="64.55" width="10.15" height="11.15"/><rect x="400.3" y="64.55" width="10.15" height="11.15"/><rect x="414.8" y="64.55" width="10.15" height="11.15"/><rect x="429.3" y="64.55" width="10.15" height="11.15"/><rect x="443.8" y="64.55" width="10.15" height="11.15"/></g>
<g fill="#87decd" stroke="#24806c" stroke-width="1.7"><rect x="659.1" y="250.1" width="30.8" height="30.55"/><path d="M676.5 250.2V280.55"/></g>
<g fill="#87decd" stroke="#24806c" stroke-width="1.7"><rect x="747.6" y="249.35" width="31.05" height="30.8"/><path d="M761 249.45V280.05"/></g>
<g fill="#87decd" stroke="#24806c" stroke-width="1.7"><rect x="659.1" y="1564.85" width="30.8" height="30.55"/><path d="M676.5 1564.95V1595.3"/></g>
<g fill="#87decd" stroke="#24806c" stroke-width="1.7"><rect x="747.6" y="1564.35" width="31.05" height="30.3"/><path d="M761 1564.45V1594.55"/></g>
<g fill="#87decd" stroke="#24806c" stroke-width="1.7" transform="translate(487.9,283.75)"><rect x="0.55" y="0.45" width="227.65" height="58.45"/><path d="M78.35 .75V58.6M161.85 .75V58.6M208.6 .75V58.6M.75 35.25H78.35M78.35 23.5H161.85M78.35 32H208.6" fill="none"/></g>
<g fill="#87decd" stroke="#24806c" stroke-width="1.7" transform="translate(949.1,283.75) scale(-1,1)"><rect x="0.55" y="0.45" width="227.65" height="58.45"/><path d="M78.35 .75V58.6M161.85 .75V58.6M208.6 .75V58.6M.75 35.25H78.35M78.35 23.5H161.85M78.35 32H208.6" fill="none"/></g>
<g fill="#87decd" stroke="#24806c" stroke-width="1.7" transform="translate(487.9,1537.35) scale(1,-1)"><rect x="0.55" y="0.45" width="227.65" height="58.45"/><path d="M78.35 .75V58.6M161.85 .75V58.6M208.6 .75V58.6M.75 35.25H78.35M78.35 23.5H161.85M78.35 32H208.6" fill="none"/></g>
<g fill="#87decd" stroke="#24806c" stroke-width="1.7" transform="translate(949.1,1537.35) scale(-1,-1)"><rect x="0.55" y="0.45" width="227.65" height="58.45"/><path d="M78.35 .75V58.6M161.85 .75V58.6M208.6 .75V58.6M.75 35.25H78.35M78.35 23.5H161.85M78.35 32H208.6" fill="none"/></g>
<g fill="#87decd" stroke="#24806c" stroke-width="1.7"><rect x="1237.25" y="893.15" width="74" height="149.1"/><rect x="1237.25" y="893.15" width="6" height="30.9"/><rect x="1244.35" y="893.15" width="21.5" height="30.9"/><rect x="1237.25" y="924.85" width="11" height="27.6"/><path d="M1237.3 952.5H1311.2"/></g>
<g fill="#d4aa00" stroke="#806600" stroke-width="1.5" transform="translate(486.25,452.4)"><rect x="18.65" y="0.65" width="211.2" height="57.45"/><rect x="0.65" y="0.65" width="17.3" height="26.7"/><rect x="0.65" y="31.25" width="17.3" height="26.85"/><path d="M110 .6V58.1"/></g>
<g fill="#d4aa00" stroke="#806600" stroke-width="1.5" transform="translate(950.65,452.4) scale(-1,1)"><rect x="18.65" y="0.65" width="211.2" height="57.45"/><rect x="0.65" y="0.65" width="17.3" height="26.7"/><rect x="0.65" y="31.25" width="17.3" height="26.85"/><path d="M110 .6V58.1"/></g>
<g fill="#d4aa00" stroke="#806600" stroke-width="1.5" transform="translate(486.25,732)"><rect x="18.65" y="0.65" width="211.2" height="57.45"/><rect x="0.65" y="0.65" width="17.3" height="26.7"/><rect x="0.65" y="31.25" width="17.3" height="26.85"/><path d="M110 .6V58.1"/></g>
<g fill="#d4aa00" stroke="#806600" stroke-width="1.5" transform="translate(950.65,732) scale(-1,1)"><rect x="18.65" y="0.65" width="211.2" height="57.45"/><rect x="0.65" y="0.65" width="17.3" height="26.7"/><rect x="0.65" y="31.25" width="17.3" height="26.85"/><path d="M110 .6V58.1"/></g>
<g fill="#d4aa00" stroke="#806600" stroke-width="1.5" transform="translate(486.25,1033.1)"><rect x="18.65" y="0.65" width="211.2" height="57.45"/><rect x="0.65" y="0.65" width="17.3" height="26.7"/><rect x="0.65" y="31.25" width="17.3" height="26.85"/><path d="M110 .6V58.1"/></g>
<g fill="#d4aa00" stroke="#806600" stroke-width="1.5" transform="translate(950.65,1033.1) scale(-1,1)"><rect x="18.65" y="0.65" width="211.2" height="57.45"/><rect x="0.65" y="0.65" width="17.3" height="26.7"/><rect x="0.65" y="31.25" width="17.3" height="26.85"/><path d="M110 .6V58.1"/></g>
<g fill="#d4aa00" stroke="#806600" stroke-width="1.5" transform="translate(486.25,1313)"><rect x="18.65" y="0.65" width="211.2" height="57.45"/><rect x="0.65" y="0.65" width="17.3" height="26.7"/><rect x="0.65" y="31.25" width="17.3" height="26.85"/><path d="M110 .6V58.1"/></g>
<g fill="#d4aa00" stroke="#806600" stroke-width="1.5" transform="translate(950.65,1313) scale(-1,1)"><rect x="18.65" y="0.65" width="211.2" height="57.45"/><rect x="0.65" y="0.65" width="17.3" height="26.7"/><rect x="0.65" y="31.25" width="17.3" height="26.85"/><path d="M110 .6V58.1"/></g>
<g fill="#d4aa00" stroke="#806600" stroke-width="1.5"><rect x="490.65" y="899.05" width="225.4" height="26.2"/><path d="M586 899V925.3"/><rect x="722.85" y="899.05" width="260.7" height="26.2"/><path d="M852.8 899V925.3M948.75 899V925.3"/></g>
<g fill="#b3b3b3" stroke="#6a6a6a" stroke-width="1.3"><g transform="translate(490,348.5) scale(1,1)"><g><rect x="0.5" y="0.5" width="74.9" height="49.3"/><path class="gl" d="M6.4 0.5V49.8M14.8 0.5V49.8M24.8 0.5V49.8M32.8 0.5V49.8M39.4 0.5V49.8M43 0.5V49.8M51.4 0.5V49.8M61.4 0.5V49.8M70.5 0.5V49.8M0.5 13.75H75.4M0.5 25.9H75.4M0.5 38.4H75.4"/><rect x="79.3" y="0.3" width="23.4" height="42.3"/><path class="gl" d="M82.9 0.3V42.6M88.6 0.3V42.6M94.2 0.3V42.6M100.9 0.3V42.6M79.3 11.8H102.7M79.3 22H102.7M79.3 32.3H102.7"/><rect x="111.6" y="4.1" width="3.8" height="5.4"/><rect x="107.8" y="12.7" width="13.3" height="7"/><rect x="111.6" y="23.1" width="5.8" height="17.4"/><rect x="111.6" y="43.1" width="5.8" height="5.7"/><rect x="124.8" y="0.3" width="23.4" height="42.3"/><path class="gl" d="M126.7 0.3V42.6M133.4 0.3V42.6M139.4 0.3V42.6M145.1 0.3V42.6M124.8 11.8H148.2M124.8 22H148.2M124.8 32.3H148.2"/><rect x="151.75" y="0.5" width="74.8" height="47.9"/><path class="gl" d="M156.65 0.5V48.4M166 0.5V48.4M175.75 0.5V48.4M184.55 0.5V48.4M187.95 0.5V48.4M194.55 0.5V48.4M202.35 0.5V48.4M212.35 0.5V48.4M220.65 0.5V48.4M151.75 12.75H226.55M151.75 24.6H226.55M151.75 37.1H226.55"/></g><g transform="translate(0,52.75)"><rect x="0.5" y="0.5" width="74.9" height="49.3"/><path class="gl" d="M6.4 0.5V49.8M14.8 0.5V49.8M24.8 0.5V49.8M32.8 0.5V49.8M39.4 0.5V49.8M43 0.5V49.8M51.4 0.5V49.8M61.4 0.5V49.8M70.5 0.5V49.8M0.5 12.5H75.4M0.5 25H75.4M0.5 37.25H75.4"/><rect x="78.6" y="7.45" width="25.6" height="42.55"/><path class="gl" d="M81.5 7.45V50M86.7 7.45V50M91.8 7.45V50M97.5 7.45V50M102.6 7.45V50M78.6 17.45H104.2M78.6 27.75H104.2M78.6 38.25H104.2"/><rect x="105.8" y="9.85" width="2.4" height="31.9"/><rect x="105.8" y="20.45" width="6.6" height="8.6"/><rect x="111.6" y="9.55" width="5.8" height="7.4"/><rect x="120.3" y="9.85" width="2.4" height="31.9"/><rect x="116.1" y="20.45" width="6.5" height="8.6"/><rect x="124.5" y="7.45" width="23.4" height="42.55"/><path class="gl" d="M126.3 7.45V50M130.4 7.45V50M135.8 7.45V50M140.6 7.45V50M145.7 7.45V50M124.5 17.45H147.9M124.5 27.75H147.9M124.5 38.25H147.9"/><rect x="151.75" y="-0.15" width="74.8" height="49.95"/><path class="gl" d="M156.65 -0.15V49.8M166 -0.15V49.8M175.75 -0.15V49.8M184.55 -0.15V49.8M187.95 -0.15V49.8M194.55 -0.15V49.8M202.35 -0.15V49.8M212.35 -0.15V49.8M220.65 -0.15V49.8M151.75 11.85H226.55M151.75 24.35H226.55M151.75 36.85H226.55"/></g></g><g transform="translate(949.1,348.5) scale(-1,1)"><g><rect x="0.5" y="0.5" width="74.9" height="49.3"/><path class="gl" d="M6.4 0.5V49.8M14.8 0.5V49.8M24.8 0.5V49.8M32.8 0.5V49.8M39.4 0.5V49.8M43 0.5V49.8M51.4 0.5V49.8M61.4 0.5V49.8M70.5 0.5V49.8M0.5 13.75H75.4M0.5 25.9H75.4M0.5 38.4H75.4"/><rect x="79.3" y="0.3" width="23.4" height="42.3"/><path class="gl" d="M82.9 0.3V42.6M88.6 0.3V42.6M94.2 0.3V42.6M100.9 0.3V42.6M79.3 11.8H102.7M79.3 22H102.7M79.3 32.3H102.7"/><rect x="111.6" y="4.1" width="3.8" height="5.4"/><rect x="107.8" y="12.7" width="13.3" height="7"/><rect x="111.6" y="23.1" width="5.8" height="17.4"/><rect x="111.6" y="43.1" width="5.8" height="5.7"/><rect x="124.8" y="0.3" width="23.4" height="42.3"/><path class="gl" d="M126.7 0.3V42.6M133.4 0.3V42.6M139.4 0.3V42.6M145.1 0.3V42.6M124.8 11.8H148.2M124.8 22H148.2M124.8 32.3H148.2"/><rect x="151.75" y="0.5" width="74.8" height="47.9"/><path class="gl" d="M156.65 0.5V48.4M166 0.5V48.4M175.75 0.5V48.4M184.55 0.5V48.4M187.95 0.5V48.4M194.55 0.5V48.4M202.35 0.5V48.4M212.35 0.5V48.4M220.65 0.5V48.4M151.75 12.75H226.55M151.75 24.6H226.55M151.75 37.1H226.55"/></g><g transform="translate(0,52.75)"><rect x="0.5" y="0.5" width="74.9" height="49.3"/><path class="gl" d="M6.4 0.5V49.8M14.8 0.5V49.8M24.8 0.5V49.8M32.8 0.5V49.8M39.4 0.5V49.8M43 0.5V49.8M51.4 0.5V49.8M61.4 0.5V49.8M70.5 0.5V49.8M0.5 12.5H75.4M0.5 25H75.4M0.5 37.25H75.4"/><rect x="78.6" y="7.45" width="25.6" height="42.55"/><path class="gl" d="M81.5 7.45V50M86.7 7.45V50M91.8 7.45V50M97.5 7.45V50M102.6 7.45V50M78.6 17.45H104.2M78.6 27.75H104.2M78.6 38.25H104.2"/><rect x="105.8" y="9.85" width="2.4" height="31.9"/><rect x="105.8" y="20.45" width="6.6" height="8.6"/><rect x="111.6" y="9.55" width="5.8" height="7.4"/><rect x="120.3" y="9.85" width="2.4" height="31.9"/><rect x="116.1" y="20.45" width="6.5" height="8.6"/><rect x="124.5" y="7.45" width="23.4" height="42.55"/><path class="gl" d="M126.3 7.45V50M130.4 7.45V50M135.8 7.45V50M140.6 7.45V50M145.7 7.45V50M124.5 17.45H147.9M124.5 27.75H147.9M124.5 38.25H147.9"/><rect x="151.75" y="-0.15" width="74.8" height="49.95"/><path class="gl" d="M156.65 -0.15V49.8M166 -0.15V49.8M175.75 -0.15V49.8M184.55 -0.15V49.8M187.95 -0.15V49.8M194.55 -0.15V49.8M202.35 -0.15V49.8M212.35 -0.15V49.8M220.65 -0.15V49.8M151.75 11.85H226.55M151.75 24.35H226.55M151.75 36.85H226.55"/></g></g><g transform="translate(490,619) scale(1,-1)"><g><rect x="0.5" y="0.5" width="74.9" height="49.3"/><path class="gl" d="M6.4 0.5V49.8M14.8 0.5V49.8M24.8 0.5V49.8M32.8 0.5V49.8M39.4 0.5V49.8M43 0.5V49.8M51.4 0.5V49.8M61.4 0.5V49.8M70.5 0.5V49.8M0.5 13.75H75.4M0.5 25.9H75.4M0.5 38.4H75.4"/><rect x="79.3" y="0.3" width="23.4" height="42.3"/><path class="gl" d="M82.9 0.3V42.6M88.6 0.3V42.6M94.2 0.3V42.6M100.9 0.3V42.6M79.3 11.8H102.7M79.3 22H102.7M79.3 32.3H102.7"/><rect x="111.6" y="4.1" width="3.8" height="5.4"/><rect x="107.8" y="12.7" width="13.3" height="7"/><rect x="111.6" y="23.1" width="5.8" height="17.4"/><rect x="111.6" y="43.1" width="5.8" height="5.7"/><rect x="124.8" y="0.3" width="23.4" height="42.3"/><path class="gl" d="M126.7 0.3V42.6M133.4 0.3V42.6M139.4 0.3V42.6M145.1 0.3V42.6M124.8 11.8H148.2M124.8 22H148.2M124.8 32.3H148.2"/><rect x="151.75" y="0.5" width="74.8" height="47.9"/><path class="gl" d="M156.65 0.5V48.4M166 0.5V48.4M175.75 0.5V48.4M184.55 0.5V48.4M187.95 0.5V48.4M194.55 0.5V48.4M202.35 0.5V48.4M212.35 0.5V48.4M220.65 0.5V48.4M151.75 12.75H226.55M151.75 24.6H226.55M151.75 37.1H226.55"/></g><g transform="translate(0,52.75)"><rect x="0.5" y="0.5" width="74.9" height="49.3"/><path class="gl" d="M6.4 0.5V49.8M14.8 0.5V49.8M24.8 0.5V49.8M32.8 0.5V49.8M39.4 0.5V49.8M43 0.5V49.8M51.4 0.5V49.8M61.4 0.5V49.8M70.5 0.5V49.8M0.5 12.5H75.4M0.5 25H75.4M0.5 37.25H75.4"/><rect x="78.6" y="7.45" width="25.6" height="42.55"/><path class="gl" d="M81.5 7.45V50M86.7 7.45V50M91.8 7.45V50M97.5 7.45V50M102.6 7.45V50M78.6 17.45H104.2M78.6 27.75H104.2M78.6 38.25H104.2"/><rect x="105.8" y="9.85" width="2.4" height="31.9"/><rect x="105.8" y="20.45" width="6.6" height="8.6"/><rect x="111.6" y="9.55" width="5.8" height="7.4"/><rect x="120.3" y="9.85" width="2.4" height="31.9"/><rect x="116.1" y="20.45" width="6.5" height="8.6"/><rect x="124.5" y="7.45" width="23.4" height="42.55"/><path class="gl" d="M126.3 7.45V50M130.4 7.45V50M135.8 7.45V50M140.6 7.45V50M145.7 7.45V50M124.5 17.45H147.9M124.5 27.75H147.9M124.5 38.25H147.9"/><rect x="151.75" y="-0.15" width="74.8" height="49.95"/><path class="gl" d="M156.65 -0.15V49.8M166 -0.15V49.8M175.75 -0.15V49.8M184.55 -0.15V49.8M187.95 -0.15V49.8M194.55 -0.15V49.8M202.35 -0.15V49.8M212.35 -0.15V49.8M220.65 -0.15V49.8M151.75 11.85H226.55M151.75 24.35H226.55M151.75 36.85H226.55"/></g></g><g transform="translate(949.1,619) scale(-1,-1)"><g><rect x="0.5" y="0.5" width="74.9" height="49.3"/><path class="gl" d="M6.4 0.5V49.8M14.8 0.5V49.8M24.8 0.5V49.8M32.8 0.5V49.8M39.4 0.5V49.8M43 0.5V49.8M51.4 0.5V49.8M61.4 0.5V49.8M70.5 0.5V49.8M0.5 13.75H75.4M0.5 25.9H75.4M0.5 38.4H75.4"/><rect x="79.3" y="0.3" width="23.4" height="42.3"/><path class="gl" d="M82.9 0.3V42.6M88.6 0.3V42.6M94.2 0.3V42.6M100.9 0.3V42.6M79.3 11.8H102.7M79.3 22H102.7M79.3 32.3H102.7"/><rect x="111.6" y="4.1" width="3.8" height="5.4"/><rect x="107.8" y="12.7" width="13.3" height="7"/><rect x="111.6" y="23.1" width="5.8" height="17.4"/><rect x="111.6" y="43.1" width="5.8" height="5.7"/><rect x="124.8" y="0.3" width="23.4" height="42.3"/><path class="gl" d="M126.7 0.3V42.6M133.4 0.3V42.6M139.4 0.3V42.6M145.1 0.3V42.6M124.8 11.8H148.2M124.8 22H148.2M124.8 32.3H148.2"/><rect x="151.75" y="0.5" width="74.8" height="47.9"/><path class="gl" d="M156.65 0.5V48.4M166 0.5V48.4M175.75 0.5V48.4M184.55 0.5V48.4M187.95 0.5V48.4M194.55 0.5V48.4M202.35 0.5V48.4M212.35 0.5V48.4M220.65 0.5V48.4M151.75 12.75H226.55M151.75 24.6H226.55M151.75 37.1H226.55"/></g><g transform="translate(0,52.75)"><rect x="0.5" y="0.5" width="74.9" height="49.3"/><path class="gl" d="M6.4 0.5V49.8M14.8 0.5V49.8M24.8 0.5V49.8M32.8 0.5V49.8M39.4 0.5V49.8M43 0.5V49.8M51.4 0.5V49.8M61.4 0.5V49.8M70.5 0.5V49.8M0.5 12.5H75.4M0.5 25H75.4M0.5 37.25H75.4"/><rect x="78.6" y="7.45" width="25.6" height="42.55"/><path class="gl" d="M81.5 7.45V50M86.7 7.45V50M91.8 7.45V50M97.5 7.45V50M102.6 7.45V50M78.6 17.45H104.2M78.6 27.75H104.2M78.6 38.25H104.2"/><rect x="105.8" y="9.85" width="2.4" height="31.9"/><rect x="105.8" y="20.45" width="6.6" height="8.6"/><rect x="111.6" y="9.55" width="5.8" height="7.4"/><rect x="120.3" y="9.85" width="2.4" height="31.9"/><rect x="116.1" y="20.45" width="6.5" height="8.6"/><rect x="124.5" y="7.45" width="23.4" height="42.55"/><path class="gl" d="M126.3 7.45V50M130.4 7.45V50M135.8 7.45V50M140.6 7.45V50M145.7 7.45V50M124.5 17.45H147.9M124.5 27.75H147.9M124.5 38.25H147.9"/><rect x="151.75" y="-0.15" width="74.8" height="49.95"/><path class="gl" d="M156.65 -0.15V49.8M166 -0.15V49.8M175.75 -0.15V49.8M184.55 -0.15V49.8M187.95 -0.15V49.8M194.55 -0.15V49.8M202.35 -0.15V49.8M212.35 -0.15V49.8M220.65 -0.15V49.8M151.75 11.85H226.55M151.75 24.35H226.55M151.75 36.85H226.55"/></g></g><g transform="translate(490,624.25) scale(1,1)"><g><rect x="0.5" y="0.5" width="74.9" height="49.3"/><path class="gl" d="M6.4 0.5V49.8M14.8 0.5V49.8M24.8 0.5V49.8M32.8 0.5V49.8M39.4 0.5V49.8M43 0.5V49.8M51.4 0.5V49.8M61.4 0.5V49.8M70.5 0.5V49.8M0.5 13.75H75.4M0.5 25.9H75.4M0.5 38.4H75.4"/><rect x="79.3" y="0.3" width="23.4" height="42.3"/><path class="gl" d="M82.9 0.3V42.6M88.6 0.3V42.6M94.2 0.3V42.6M100.9 0.3V42.6M79.3 11.8H102.7M79.3 22H102.7M79.3 32.3H102.7"/><rect x="111.6" y="4.1" width="3.8" height="5.4"/><rect x="107.8" y="12.7" width="13.3" height="7"/><rect x="111.6" y="23.1" width="5.8" height="17.4"/><rect x="111.6" y="43.1" width="5.8" height="5.7"/><rect x="124.8" y="0.3" width="23.4" height="42.3"/><path class="gl" d="M126.7 0.3V42.6M133.4 0.3V42.6M139.4 0.3V42.6M145.1 0.3V42.6M124.8 11.8H148.2M124.8 22H148.2M124.8 32.3H148.2"/><rect x="151.75" y="0.5" width="74.8" height="47.9"/><path class="gl" d="M156.65 0.5V48.4M166 0.5V48.4M175.75 0.5V48.4M184.55 0.5V48.4M187.95 0.5V48.4M194.55 0.5V48.4M202.35 0.5V48.4M212.35 0.5V48.4M220.65 0.5V48.4M151.75 12.75H226.55M151.75 24.6H226.55M151.75 37.1H226.55"/></g><g transform="translate(0,52.75)"><rect x="0.5" y="0.5" width="74.9" height="49.3"/><path class="gl" d="M6.4 0.5V49.8M14.8 0.5V49.8M24.8 0.5V49.8M32.8 0.5V49.8M39.4 0.5V49.8M43 0.5V49.8M51.4 0.5V49.8M61.4 0.5V49.8M70.5 0.5V49.8M0.5 12.5H75.4M0.5 25H75.4M0.5 37.25H75.4"/><rect x="78.6" y="7.45" width="25.6" height="42.55"/><path class="gl" d="M81.5 7.45V50M86.7 7.45V50M91.8 7.45V50M97.5 7.45V50M102.6 7.45V50M78.6 17.45H104.2M78.6 27.75H104.2M78.6 38.25H104.2"/><rect x="105.8" y="9.85" width="2.4" height="31.9"/><rect x="105.8" y="20.45" width="6.6" height="8.6"/><rect x="111.6" y="9.55" width="5.8" height="7.4"/><rect x="120.3" y="9.85" width="2.4" height="31.9"/><rect x="116.1" y="20.45" width="6.5" height="8.6"/><rect x="124.5" y="7.45" width="23.4" height="42.55"/><path class="gl" d="M126.3 7.45V50M130.4 7.45V50M135.8 7.45V50M140.6 7.45V50M145.7 7.45V50M124.5 17.45H147.9M124.5 27.75H147.9M124.5 38.25H147.9"/><rect x="151.75" y="-0.15" width="74.8" height="49.95"/><path class="gl" d="M156.65 -0.15V49.8M166 -0.15V49.8M175.75 -0.15V49.8M184.55 -0.15V49.8M187.95 -0.15V49.8M194.55 -0.15V49.8M202.35 -0.15V49.8M212.35 -0.15V49.8M220.65 -0.15V49.8M151.75 11.85H226.55M151.75 24.35H226.55M151.75 36.85H226.55"/></g></g><g transform="translate(949.1,624.25) scale(-1,1)"><g><rect x="0.5" y="0.5" width="74.9" height="49.3"/><path class="gl" d="M6.4 0.5V49.8M14.8 0.5V49.8M24.8 0.5V49.8M32.8 0.5V49.8M39.4 0.5V49.8M43 0.5V49.8M51.4 0.5V49.8M61.4 0.5V49.8M70.5 0.5V49.8M0.5 13.75H75.4M0.5 25.9H75.4M0.5 38.4H75.4"/><rect x="79.3" y="0.3" width="23.4" height="42.3"/><path class="gl" d="M82.9 0.3V42.6M88.6 0.3V42.6M94.2 0.3V42.6M100.9 0.3V42.6M79.3 11.8H102.7M79.3 22H102.7M79.3 32.3H102.7"/><rect x="111.6" y="4.1" width="3.8" height="5.4"/><rect x="107.8" y="12.7" width="13.3" height="7"/><rect x="111.6" y="23.1" width="5.8" height="17.4"/><rect x="111.6" y="43.1" width="5.8" height="5.7"/><rect x="124.8" y="0.3" width="23.4" height="42.3"/><path class="gl" d="M126.7 0.3V42.6M133.4 0.3V42.6M139.4 0.3V42.6M145.1 0.3V42.6M124.8 11.8H148.2M124.8 22H148.2M124.8 32.3H148.2"/><rect x="151.75" y="0.5" width="74.8" height="47.9"/><path class="gl" d="M156.65 0.5V48.4M166 0.5V48.4M175.75 0.5V48.4M184.55 0.5V48.4M187.95 0.5V48.4M194.55 0.5V48.4M202.35 0.5V48.4M212.35 0.5V48.4M220.65 0.5V48.4M151.75 12.75H226.55M151.75 24.6H226.55M151.75 37.1H226.55"/></g><g transform="translate(0,52.75)"><rect x="0.5" y="0.5" width="74.9" height="49.3"/><path class="gl" d="M6.4 0.5V49.8M14.8 0.5V49.8M24.8 0.5V49.8M32.8 0.5V49.8M39.4 0.5V49.8M43 0.5V49.8M51.4 0.5V49.8M61.4 0.5V49.8M70.5 0.5V49.8M0.5 12.5H75.4M0.5 25H75.4M0.5 37.25H75.4"/><rect x="78.6" y="7.45" width="25.6" height="42.55"/><path class="gl" d="M81.5 7.45V50M86.7 7.45V50M91.8 7.45V50M97.5 7.45V50M102.6 7.45V50M78.6 17.45H104.2M78.6 27.75H104.2M78.6 38.25H104.2"/><rect x="105.8" y="9.85" width="2.4" height="31.9"/><rect x="105.8" y="20.45" width="6.6" height="8.6"/><rect x="111.6" y="9.55" width="5.8" height="7.4"/><rect x="120.3" y="9.85" width="2.4" height="31.9"/><rect x="116.1" y="20.45" width="6.5" height="8.6"/><rect x="124.5" y="7.45" width="23.4" height="42.55"/><path class="gl" d="M126.3 7.45V50M130.4 7.45V50M135.8 7.45V50M140.6 7.45V50M145.7 7.45V50M124.5 17.45H147.9M124.5 27.75H147.9M124.5 38.25H147.9"/><rect x="151.75" y="-0.15" width="74.8" height="49.95"/><path class="gl" d="M156.65 -0.15V49.8M166 -0.15V49.8M175.75 -0.15V49.8M184.55 -0.15V49.8M187.95 -0.15V49.8M194.55 -0.15V49.8M202.35 -0.15V49.8M212.35 -0.15V49.8M220.65 -0.15V49.8M151.75 11.85H226.55M151.75 24.35H226.55M151.75 36.85H226.55"/></g></g><g transform="translate(490,895.25) scale(1,-1)"><g><rect x="0.5" y="0.5" width="74.9" height="49.3"/><path class="gl" d="M6.4 0.5V49.8M14.8 0.5V49.8M24.8 0.5V49.8M32.8 0.5V49.8M39.4 0.5V49.8M43 0.5V49.8M51.4 0.5V49.8M61.4 0.5V49.8M70.5 0.5V49.8M0.5 13.75H75.4M0.5 25.9H75.4M0.5 38.4H75.4"/><rect x="79.3" y="0.3" width="23.4" height="42.3"/><path class="gl" d="M82.9 0.3V42.6M88.6 0.3V42.6M94.2 0.3V42.6M100.9 0.3V42.6M79.3 11.8H102.7M79.3 22H102.7M79.3 32.3H102.7"/><rect x="111.6" y="4.1" width="3.8" height="5.4"/><rect x="107.8" y="12.7" width="13.3" height="7"/><rect x="111.6" y="23.1" width="5.8" height="17.4"/><rect x="111.6" y="43.1" width="5.8" height="5.7"/><rect x="124.8" y="0.3" width="23.4" height="42.3"/><path class="gl" d="M126.7 0.3V42.6M133.4 0.3V42.6M139.4 0.3V42.6M145.1 0.3V42.6M124.8 11.8H148.2M124.8 22H148.2M124.8 32.3H148.2"/><rect x="151.75" y="0.5" width="74.8" height="47.9"/><path class="gl" d="M156.65 0.5V48.4M166 0.5V48.4M175.75 0.5V48.4M184.55 0.5V48.4M187.95 0.5V48.4M194.55 0.5V48.4M202.35 0.5V48.4M212.35 0.5V48.4M220.65 0.5V48.4M151.75 12.75H226.55M151.75 24.6H226.55M151.75 37.1H226.55"/></g><g transform="translate(0,52.75)"><rect x="0.5" y="0.5" width="74.9" height="49.3"/><path class="gl" d="M6.4 0.5V49.8M14.8 0.5V49.8M24.8 0.5V49.8M32.8 0.5V49.8M39.4 0.5V49.8M43 0.5V49.8M51.4 0.5V49.8M61.4 0.5V49.8M70.5 0.5V49.8M0.5 12.5H75.4M0.5 25H75.4M0.5 37.25H75.4"/><rect x="78.6" y="7.45" width="25.6" height="42.55"/><path class="gl" d="M81.5 7.45V50M86.7 7.45V50M91.8 7.45V50M97.5 7.45V50M102.6 7.45V50M78.6 17.45H104.2M78.6 27.75H104.2M78.6 38.25H104.2"/><rect x="105.8" y="9.85" width="2.4" height="31.9"/><rect x="105.8" y="20.45" width="6.6" height="8.6"/><rect x="111.6" y="9.55" width="5.8" height="7.4"/><rect x="120.3" y="9.85" width="2.4" height="31.9"/><rect x="116.1" y="20.45" width="6.5" height="8.6"/><rect x="124.5" y="7.45" width="23.4" height="42.55"/><path class="gl" d="M126.3 7.45V50M130.4 7.45V50M135.8 7.45V50M140.6 7.45V50M145.7 7.45V50M124.5 17.45H147.9M124.5 27.75H147.9M124.5 38.25H147.9"/><rect x="151.75" y="-0.15" width="74.8" height="49.95"/><path class="gl" d="M156.65 -0.15V49.8M166 -0.15V49.8M175.75 -0.15V49.8M184.55 -0.15V49.8M187.95 -0.15V49.8M194.55 -0.15V49.8M202.35 -0.15V49.8M212.35 -0.15V49.8M220.65 -0.15V49.8M151.75 11.85H226.55M151.75 24.35H226.55M151.75 36.85H226.55"/></g></g><g transform="translate(949.1,895.25) scale(-1,-1)"><g><rect x="0.5" y="0.5" width="74.9" height="49.3"/><path class="gl" d="M6.4 0.5V49.8M14.8 0.5V49.8M24.8 0.5V49.8M32.8 0.5V49.8M39.4 0.5V49.8M43 0.5V49.8M51.4 0.5V49.8M61.4 0.5V49.8M70.5 0.5V49.8M0.5 13.75H75.4M0.5 25.9H75.4M0.5 38.4H75.4"/><rect x="79.3" y="0.3" width="23.4" height="42.3"/><path class="gl" d="M82.9 0.3V42.6M88.6 0.3V42.6M94.2 0.3V42.6M100.9 0.3V42.6M79.3 11.8H102.7M79.3 22H102.7M79.3 32.3H102.7"/><rect x="111.6" y="4.1" width="3.8" height="5.4"/><rect x="107.8" y="12.7" width="13.3" height="7"/><rect x="111.6" y="23.1" width="5.8" height="17.4"/><rect x="111.6" y="43.1" width="5.8" height="5.7"/><rect x="124.8" y="0.3" width="23.4" height="42.3"/><path class="gl" d="M126.7 0.3V42.6M133.4 0.3V42.6M139.4 0.3V42.6M145.1 0.3V42.6M124.8 11.8H148.2M124.8 22H148.2M124.8 32.3H148.2"/><rect x="151.75" y="0.5" width="74.8" height="47.9"/><path class="gl" d="M156.65 0.5V48.4M166 0.5V48.4M175.75 0.5V48.4M184.55 0.5V48.4M187.95 0.5V48.4M194.55 0.5V48.4M202.35 0.5V48.4M212.35 0.5V48.4M220.65 0.5V48.4M151.75 12.75H226.55M151.75 24.6H226.55M151.75 37.1H226.55"/></g><g transform="translate(0,52.75)"><rect x="0.5" y="0.5" width="74.9" height="49.3"/><path class="gl" d="M6.4 0.5V49.8M14.8 0.5V49.8M24.8 0.5V49.8M32.8 0.5V49.8M39.4 0.5V49.8M43 0.5V49.8M51.4 0.5V49.8M61.4 0.5V49.8M70.5 0.5V49.8M0.5 12.5H75.4M0.5 25H75.4M0.5 37.25H75.4"/><rect x="78.6" y="7.45" width="25.6" height="42.55"/><path class="gl" d="M81.5 7.45V50M86.7 7.45V50M91.8 7.45V50M97.5 7.45V50M102.6 7.45V50M78.6 17.45H104.2M78.6 27.75H104.2M78.6 38.25H104.2"/><rect x="105.8" y="9.85" width="2.4" height="31.9"/><rect x="105.8" y="20.45" width="6.6" height="8.6"/><rect x="111.6" y="9.55" width="5.8" height="7.4"/><rect x="120.3" y="9.85" width="2.4" height="31.9"/><rect x="116.1" y="20.45" width="6.5" height="8.6"/><rect x="124.5" y="7.45" width="23.4" height="42.55"/><path class="gl" d="M126.3 7.45V50M130.4 7.45V50M135.8 7.45V50M140.6 7.45V50M145.7 7.45V50M124.5 17.45H147.9M124.5 27.75H147.9M124.5 38.25H147.9"/><rect x="151.75" y="-0.15" width="74.8" height="49.95"/><path class="gl" d="M156.65 -0.15V49.8M166 -0.15V49.8M175.75 -0.15V49.8M184.55 -0.15V49.8M187.95 -0.15V49.8M194.55 -0.15V49.8M202.35 -0.15V49.8M212.35 -0.15V49.8M220.65 -0.15V49.8M151.75 11.85H226.55M151.75 24.35H226.55M151.75 36.85H226.55"/></g></g><g transform="translate(490,929.25) scale(1,1)"><g><rect x="0.5" y="0.5" width="74.9" height="49.3"/><path class="gl" d="M6.4 0.5V49.8M14.8 0.5V49.8M24.8 0.5V49.8M32.8 0.5V49.8M39.4 0.5V49.8M43 0.5V49.8M51.4 0.5V49.8M61.4 0.5V49.8M70.5 0.5V49.8M0.5 13.75H75.4M0.5 25.9H75.4M0.5 38.4H75.4"/><rect x="79.3" y="0.3" width="23.4" height="42.3"/><path class="gl" d="M82.9 0.3V42.6M88.6 0.3V42.6M94.2 0.3V42.6M100.9 0.3V42.6M79.3 11.8H102.7M79.3 22H102.7M79.3 32.3H102.7"/><rect x="111.6" y="4.1" width="3.8" height="5.4"/><rect x="107.8" y="12.7" width="13.3" height="7"/><rect x="111.6" y="23.1" width="5.8" height="17.4"/><rect x="111.6" y="43.1" width="5.8" height="5.7"/><rect x="124.8" y="0.3" width="23.4" height="42.3"/><path class="gl" d="M126.7 0.3V42.6M133.4 0.3V42.6M139.4 0.3V42.6M145.1 0.3V42.6M124.8 11.8H148.2M124.8 22H148.2M124.8 32.3H148.2"/><rect x="151.75" y="0.5" width="74.8" height="47.9"/><path class="gl" d="M156.65 0.5V48.4M166 0.5V48.4M175.75 0.5V48.4M184.55 0.5V48.4M187.95 0.5V48.4M194.55 0.5V48.4M202.35 0.5V48.4M212.35 0.5V48.4M220.65 0.5V48.4M151.75 12.75H226.55M151.75 24.6H226.55M151.75 37.1H226.55"/></g><g transform="translate(0,52.75)"><rect x="0.5" y="0.5" width="74.9" height="49.3"/><path class="gl" d="M6.4 0.5V49.8M14.8 0.5V49.8M24.8 0.5V49.8M32.8 0.5V49.8M39.4 0.5V49.8M43 0.5V49.8M51.4 0.5V49.8M61.4 0.5V49.8M70.5 0.5V49.8M0.5 12.5H75.4M0.5 25H75.4M0.5 37.25H75.4"/><rect x="78.6" y="7.45" width="25.6" height="42.55"/><path class="gl" d="M81.5 7.45V50M86.7 7.45V50M91.8 7.45V50M97.5 7.45V50M102.6 7.45V50M78.6 17.45H104.2M78.6 27.75H104.2M78.6 38.25H104.2"/><rect x="105.8" y="9.85" width="2.4" height="31.9"/><rect x="105.8" y="20.45" width="6.6" height="8.6"/><rect x="111.6" y="9.55" width="5.8" height="7.4"/><rect x="120.3" y="9.85" width="2.4" height="31.9"/><rect x="116.1" y="20.45" width="6.5" height="8.6"/><rect x="124.5" y="7.45" width="23.4" height="42.55"/><path class="gl" d="M126.3 7.45V50M130.4 7.45V50M135.8 7.45V50M140.6 7.45V50M145.7 7.45V50M124.5 17.45H147.9M124.5 27.75H147.9M124.5 38.25H147.9"/><rect x="151.75" y="-0.15" width="74.8" height="49.95"/><path class="gl" d="M156.65 -0.15V49.8M166 -0.15V49.8M175.75 -0.15V49.8M184.55 -0.15V49.8M187.95 -0.15V49.8M194.55 -0.15V49.8M202.35 -0.15V49.8M212.35 -0.15V49.8M220.65 -0.15V49.8M151.75 11.85H226.55M151.75 24.35H226.55M151.75 36.85H226.55"/></g></g><g transform="translate(949.1,929.25) scale(-1,1)"><g><rect x="0.5" y="0.5" width="74.9" height="49.3"/><path class="gl" d="M6.4 0.5V49.8M14.8 0.5V49.8M24.8 0.5V49.8M32.8 0.5V49.8M39.4 0.5V49.8M43 0.5V49.8M51.4 0.5V49.8M61.4 0.5V49.8M70.5 0.5V49.8M0.5 13.75H75.4M0.5 25.9H75.4M0.5 38.4H75.4"/><rect x="79.3" y="0.3" width="23.4" height="42.3"/><path class="gl" d="M82.9 0.3V42.6M88.6 0.3V42.6M94.2 0.3V42.6M100.9 0.3V42.6M79.3 11.8H102.7M79.3 22H102.7M79.3 32.3H102.7"/><rect x="111.6" y="4.1" width="3.8" height="5.4"/><rect x="107.8" y="12.7" width="13.3" height="7"/><rect x="111.6" y="23.1" width="5.8" height="17.4"/><rect x="111.6" y="43.1" width="5.8" height="5.7"/><rect x="124.8" y="0.3" width="23.4" height="42.3"/><path class="gl" d="M126.7 0.3V42.6M133.4 0.3V42.6M139.4 0.3V42.6M145.1 0.3V42.6M124.8 11.8H148.2M124.8 22H148.2M124.8 32.3H148.2"/><rect x="151.75" y="0.5" width="74.8" height="47.9"/><path class="gl" d="M156.65 0.5V48.4M166 0.5V48.4M175.75 0.5V48.4M184.55 0.5V48.4M187.95 0.5V48.4M194.55 0.5V48.4M202.35 0.5V48.4M212.35 0.5V48.4M220.65 0.5V48.4M151.75 12.75H226.55M151.75 24.6H226.55M151.75 37.1H226.55"/></g><g transform="translate(0,52.75)"><rect x="0.5" y="0.5" width="74.9" height="49.3"/><path class="gl" d="M6.4 0.5V49.8M14.8 0.5V49.8M24.8 0.5V49.8M32.8 0.5V49.8M39.4 0.5V49.8M43 0.5V49.8M51.4 0.5V49.8M61.4 0.5V49.8M70.5 0.5V49.8M0.5 12.5H75.4M0.5 25H75.4M0.5 37.25H75.4"/><rect x="78.6" y="7.45" width="25.6" height="42.55"/><path class="gl" d="M81.5 7.45V50M86.7 7.45V50M91.8 7.45V50M97.5 7.45V50M102.6 7.45V50M78.6 17.45H104.2M78.6 27.75H104.2M78.6 38.25H104.2"/><rect x="105.8" y="9.85" width="2.4" height="31.9"/><rect x="105.8" y="20.45" width="6.6" height="8.6"/><rect x="111.6" y="9.55" width="5.8" height="7.4"/><rect x="120.3" y="9.85" width="2.4" height="31.9"/><rect x="116.1" y="20.45" width="6.5" height="8.6"/><rect x="124.5" y="7.45" width="23.4" height="42.55"/><path class="gl" d="M126.3 7.45V50M130.4 7.45V50M135.8 7.45V50M140.6 7.45V50M145.7 7.45V50M124.5 17.45H147.9M124.5 27.75H147.9M124.5 38.25H147.9"/><rect x="151.75" y="-0.15" width="74.8" height="49.95"/><path class="gl" d="M156.65 -0.15V49.8M166 -0.15V49.8M175.75 -0.15V49.8M184.55 -0.15V49.8M187.95 -0.15V49.8M194.55 -0.15V49.8M202.35 -0.15V49.8M212.35 -0.15V49.8M220.65 -0.15V49.8M151.75 11.85H226.55M151.75 24.35H226.55M151.75 36.85H226.55"/></g></g><g transform="translate(490,1202.05) scale(1,-1)"><g><rect x="0.5" y="0.5" width="74.9" height="49.3"/><path class="gl" d="M6.4 0.5V49.8M14.8 0.5V49.8M24.8 0.5V49.8M32.8 0.5V49.8M39.4 0.5V49.8M43 0.5V49.8M51.4 0.5V49.8M61.4 0.5V49.8M70.5 0.5V49.8M0.5 13.75H75.4M0.5 25.9H75.4M0.5 38.4H75.4"/><rect x="79.3" y="0.3" width="23.4" height="42.3"/><path class="gl" d="M82.9 0.3V42.6M88.6 0.3V42.6M94.2 0.3V42.6M100.9 0.3V42.6M79.3 11.8H102.7M79.3 22H102.7M79.3 32.3H102.7"/><rect x="111.6" y="4.1" width="3.8" height="5.4"/><rect x="107.8" y="12.7" width="13.3" height="7"/><rect x="111.6" y="23.1" width="5.8" height="17.4"/><rect x="111.6" y="43.1" width="5.8" height="5.7"/><rect x="124.8" y="0.3" width="23.4" height="42.3"/><path class="gl" d="M126.7 0.3V42.6M133.4 0.3V42.6M139.4 0.3V42.6M145.1 0.3V42.6M124.8 11.8H148.2M124.8 22H148.2M124.8 32.3H148.2"/><rect x="151.75" y="0.5" width="74.8" height="47.9"/><path class="gl" d="M156.65 0.5V48.4M166 0.5V48.4M175.75 0.5V48.4M184.55 0.5V48.4M187.95 0.5V48.4M194.55 0.5V48.4M202.35 0.5V48.4M212.35 0.5V48.4M220.65 0.5V48.4M151.75 12.75H226.55M151.75 24.6H226.55M151.75 37.1H226.55"/></g><g transform="translate(0,52.75)"><rect x="0.5" y="0.5" width="74.9" height="49.3"/><path class="gl" d="M6.4 0.5V49.8M14.8 0.5V49.8M24.8 0.5V49.8M32.8 0.5V49.8M39.4 0.5V49.8M43 0.5V49.8M51.4 0.5V49.8M61.4 0.5V49.8M70.5 0.5V49.8M0.5 12.5H75.4M0.5 25H75.4M0.5 37.25H75.4"/><rect x="78.6" y="7.45" width="25.6" height="42.55"/><path class="gl" d="M81.5 7.45V50M86.7 7.45V50M91.8 7.45V50M97.5 7.45V50M102.6 7.45V50M78.6 17.45H104.2M78.6 27.75H104.2M78.6 38.25H104.2"/><rect x="105.8" y="9.85" width="2.4" height="31.9"/><rect x="105.8" y="20.45" width="6.6" height="8.6"/><rect x="111.6" y="9.55" width="5.8" height="7.4"/><rect x="120.3" y="9.85" width="2.4" height="31.9"/><rect x="116.1" y="20.45" width="6.5" height="8.6"/><rect x="124.5" y="7.45" width="23.4" height="42.55"/><path class="gl" d="M126.3 7.45V50M130.4 7.45V50M135.8 7.45V50M140.6 7.45V50M145.7 7.45V50M124.5 17.45H147.9M124.5 27.75H147.9M124.5 38.25H147.9"/><rect x="151.75" y="-0.15" width="74.8" height="49.95"/><path class="gl" d="M156.65 -0.15V49.8M166 -0.15V49.8M175.75 -0.15V49.8M184.55 -0.15V49.8M187.95 -0.15V49.8M194.55 -0.15V49.8M202.35 -0.15V49.8M212.35 -0.15V49.8M220.65 -0.15V49.8M151.75 11.85H226.55M151.75 24.35H226.55M151.75 36.85H226.55"/></g></g><g transform="translate(949.1,1202.05) scale(-1,-1)"><g><rect x="0.5" y="0.5" width="74.9" height="49.3"/><path class="gl" d="M6.4 0.5V49.8M14.8 0.5V49.8M24.8 0.5V49.8M32.8 0.5V49.8M39.4 0.5V49.8M43 0.5V49.8M51.4 0.5V49.8M61.4 0.5V49.8M70.5 0.5V49.8M0.5 13.75H75.4M0.5 25.9H75.4M0.5 38.4H75.4"/><rect x="79.3" y="0.3" width="23.4" height="42.3"/><path class="gl" d="M82.9 0.3V42.6M88.6 0.3V42.6M94.2 0.3V42.6M100.9 0.3V42.6M79.3 11.8H102.7M79.3 22H102.7M79.3 32.3H102.7"/><rect x="111.6" y="4.1" width="3.8" height="5.4"/><rect x="107.8" y="12.7" width="13.3" height="7"/><rect x="111.6" y="23.1" width="5.8" height="17.4"/><rect x="111.6" y="43.1" width="5.8" height="5.7"/><rect x="124.8" y="0.3" width="23.4" height="42.3"/><path class="gl" d="M126.7 0.3V42.6M133.4 0.3V42.6M139.4 0.3V42.6M145.1 0.3V42.6M124.8 11.8H148.2M124.8 22H148.2M124.8 32.3H148.2"/><rect x="151.75" y="0.5" width="74.8" height="47.9"/><path class="gl" d="M156.65 0.5V48.4M166 0.5V48.4M175.75 0.5V48.4M184.55 0.5V48.4M187.95 0.5V48.4M194.55 0.5V48.4M202.35 0.5V48.4M212.35 0.5V48.4M220.65 0.5V48.4M151.75 12.75H226.55M151.75 24.6H226.55M151.75 37.1H226.55"/></g><g transform="translate(0,52.75)"><rect x="0.5" y="0.5" width="74.9" height="49.3"/><path class="gl" d="M6.4 0.5V49.8M14.8 0.5V49.8M24.8 0.5V49.8M32.8 0.5V49.8M39.4 0.5V49.8M43 0.5V49.8M51.4 0.5V49.8M61.4 0.5V49.8M70.5 0.5V49.8M0.5 12.5H75.4M0.5 25H75.4M0.5 37.25H75.4"/><rect x="78.6" y="7.45" width="25.6" height="42.55"/><path class="gl" d="M81.5 7.45V50M86.7 7.45V50M91.8 7.45V50M97.5 7.45V50M102.6 7.45V50M78.6 17.45H104.2M78.6 27.75H104.2M78.6 38.25H104.2"/><rect x="105.8" y="9.85" width="2.4" height="31.9"/><rect x="105.8" y="20.45" width="6.6" height="8.6"/><rect x="111.6" y="9.55" width="5.8" height="7.4"/><rect x="120.3" y="9.85" width="2.4" height="31.9"/><rect x="116.1" y="20.45" width="6.5" height="8.6"/><rect x="124.5" y="7.45" width="23.4" height="42.55"/><path class="gl" d="M126.3 7.45V50M130.4 7.45V50M135.8 7.45V50M140.6 7.45V50M145.7 7.45V50M124.5 17.45H147.9M124.5 27.75H147.9M124.5 38.25H147.9"/><rect x="151.75" y="-0.15" width="74.8" height="49.95"/><path class="gl" d="M156.65 -0.15V49.8M166 -0.15V49.8M175.75 -0.15V49.8M184.55 -0.15V49.8M187.95 -0.15V49.8M194.55 -0.15V49.8M202.35 -0.15V49.8M212.35 -0.15V49.8M220.65 -0.15V49.8M151.75 11.85H226.55M151.75 24.35H226.55M151.75 36.85H226.55"/></g></g><g transform="translate(490,1207.5) scale(1,1)"><g><rect x="0.5" y="0.5" width="74.9" height="49.3"/><path class="gl" d="M6.4 0.5V49.8M14.8 0.5V49.8M24.8 0.5V49.8M32.8 0.5V49.8M39.4 0.5V49.8M43 0.5V49.8M51.4 0.5V49.8M61.4 0.5V49.8M70.5 0.5V49.8M0.5 13.75H75.4M0.5 25.9H75.4M0.5 38.4H75.4"/><rect x="79.3" y="0.3" width="23.4" height="42.3"/><path class="gl" d="M82.9 0.3V42.6M88.6 0.3V42.6M94.2 0.3V42.6M100.9 0.3V42.6M79.3 11.8H102.7M79.3 22H102.7M79.3 32.3H102.7"/><rect x="111.6" y="4.1" width="3.8" height="5.4"/><rect x="107.8" y="12.7" width="13.3" height="7"/><rect x="111.6" y="23.1" width="5.8" height="17.4"/><rect x="111.6" y="43.1" width="5.8" height="5.7"/><rect x="124.8" y="0.3" width="23.4" height="42.3"/><path class="gl" d="M126.7 0.3V42.6M133.4 0.3V42.6M139.4 0.3V42.6M145.1 0.3V42.6M124.8 11.8H148.2M124.8 22H148.2M124.8 32.3H148.2"/><rect x="151.75" y="0.5" width="74.8" height="47.9"/><path class="gl" d="M156.65 0.5V48.4M166 0.5V48.4M175.75 0.5V48.4M184.55 0.5V48.4M187.95 0.5V48.4M194.55 0.5V48.4M202.35 0.5V48.4M212.35 0.5V48.4M220.65 0.5V48.4M151.75 12.75H226.55M151.75 24.6H226.55M151.75 37.1H226.55"/></g><g transform="translate(0,52.75)"><rect x="0.5" y="0.5" width="74.9" height="49.3"/><path class="gl" d="M6.4 0.5V49.8M14.8 0.5V49.8M24.8 0.5V49.8M32.8 0.5V49.8M39.4 0.5V49.8M43 0.5V49.8M51.4 0.5V49.8M61.4 0.5V49.8M70.5 0.5V49.8M0.5 12.5H75.4M0.5 25H75.4M0.5 37.25H75.4"/><rect x="78.6" y="7.45" width="25.6" height="42.55"/><path class="gl" d="M81.5 7.45V50M86.7 7.45V50M91.8 7.45V50M97.5 7.45V50M102.6 7.45V50M78.6 17.45H104.2M78.6 27.75H104.2M78.6 38.25H104.2"/><rect x="105.8" y="9.85" width="2.4" height="31.9"/><rect x="105.8" y="20.45" width="6.6" height="8.6"/><rect x="111.6" y="9.55" width="5.8" height="7.4"/><rect x="120.3" y="9.85" width="2.4" height="31.9"/><rect x="116.1" y="20.45" width="6.5" height="8.6"/><rect x="124.5" y="7.45" width="23.4" height="42.55"/><path class="gl" d="M126.3 7.45V50M130.4 7.45V50M135.8 7.45V50M140.6 7.45V50M145.7 7.45V50M124.5 17.45H147.9M124.5 27.75H147.9M124.5 38.25H147.9"/><rect x="151.75" y="-0.15" width="74.8" height="49.95"/><path class="gl" d="M156.65 -0.15V49.8M166 -0.15V49.8M175.75 -0.15V49.8M184.55 -0.15V49.8M187.95 -0.15V49.8M194.55 -0.15V49.8M202.35 -0.15V49.8M212.35 -0.15V49.8M220.65 -0.15V49.8M151.75 11.85H226.55M151.75 24.35H226.55M151.75 36.85H226.55"/></g></g><g transform="translate(949.1,1207.5) scale(-1,1)"><g><rect x="0.5" y="0.5" width="74.9" height="49.3"/><path class="gl" d="M6.4 0.5V49.8M14.8 0.5V49.8M24.8 0.5V49.8M32.8 0.5V49.8M39.4 0.5V49.8M43 0.5V49.8M51.4 0.5V49.8M61.4 0.5V49.8M70.5 0.5V49.8M0.5 13.75H75.4M0.5 25.9H75.4M0.5 38.4H75.4"/><rect x="79.3" y="0.3" width="23.4" height="42.3"/><path class="gl" d="M82.9 0.3V42.6M88.6 0.3V42.6M94.2 0.3V42.6M100.9 0.3V42.6M79.3 11.8H102.7M79.3 22H102.7M79.3 32.3H102.7"/><rect x="111.6" y="4.1" width="3.8" height="5.4"/><rect x="107.8" y="12.7" width="13.3" height="7"/><rect x="111.6" y="23.1" width="5.8" height="17.4"/><rect x="111.6" y="43.1" width="5.8" height="5.7"/><rect x="124.8" y="0.3" width="23.4" height="42.3"/><path class="gl" d="M126.7 0.3V42.6M133.4 0.3V42.6M139.4 0.3V42.6M145.1 0.3V42.6M124.8 11.8H148.2M124.8 22H148.2M124.8 32.3H148.2"/><rect x="151.75" y="0.5" width="74.8" height="47.9"/><path class="gl" d="M156.65 0.5V48.4M166 0.5V48.4M175.75 0.5V48.4M184.55 0.5V48.4M187.95 0.5V48.4M194.55 0.5V48.4M202.35 0.5V48.4M212.35 0.5V48.4M220.65 0.5V48.4M151.75 12.75H226.55M151.75 24.6H226.55M151.75 37.1H226.55"/></g><g transform="translate(0,52.75)"><rect x="0.5" y="0.5" width="74.9" height="49.3"/><path class="gl" d="M6.4 0.5V49.8M14.8 0.5V49.8M24.8 0.5V49.8M32.8 0.5V49.8M39.4 0.5V49.8M43 0.5V49.8M51.4 0.5V49.8M61.4 0.5V49.8M70.5 0.5V49.8M0.5 12.5H75.4M0.5 25H75.4M0.5 37.25H75.4"/><rect x="78.6" y="7.45" width="25.6" height="42.55"/><path class="gl" d="M81.5 7.45V50M86.7 7.45V50M91.8 7.45V50M97.5 7.45V50M102.6 7.45V50M78.6 17.45H104.2M78.6 27.75H104.2M78.6 38.25H104.2"/><rect x="105.8" y="9.85" width="2.4" height="31.9"/><rect x="105.8" y="20.45" width="6.6" height="8.6"/><rect x="111.6" y="9.55" width="5.8" height="7.4"/><rect x="120.3" y="9.85" width="2.4" height="31.9"/><rect x="116.1" y="20.45" width="6.5" height="8.6"/><rect x="124.5" y="7.45" width="23.4" height="42.55"/><path class="gl" d="M126.3 7.45V50M130.4 7.45V50M135.8 7.45V50M140.6 7.45V50M145.7 7.45V50M124.5 17.45H147.9M124.5 27.75H147.9M124.5 38.25H147.9"/><rect x="151.75" y="-0.15" width="74.8" height="49.95"/><path class="gl" d="M156.65 -0.15V49.8M166 -0.15V49.8M175.75 -0.15V49.8M184.55 -0.15V49.8M187.95 -0.15V49.8M194.55 -0.15V49.8M202.35 -0.15V49.8M212.35 -0.15V49.8M220.65 -0.15V49.8M151.75 11.85H226.55M151.75 24.35H226.55M151.75 36.85H226.55"/></g></g><g transform="translate(490,1475.65) scale(1,-1)"><g><rect x="0.5" y="0.5" width="74.9" height="49.3"/><path class="gl" d="M6.4 0.5V49.8M14.8 0.5V49.8M24.8 0.5V49.8M32.8 0.5V49.8M39.4 0.5V49.8M43 0.5V49.8M51.4 0.5V49.8M61.4 0.5V49.8M70.5 0.5V49.8M0.5 13.75H75.4M0.5 25.9H75.4M0.5 38.4H75.4"/><rect x="79.3" y="0.3" width="23.4" height="42.3"/><path class="gl" d="M82.9 0.3V42.6M88.6 0.3V42.6M94.2 0.3V42.6M100.9 0.3V42.6M79.3 11.8H102.7M79.3 22H102.7M79.3 32.3H102.7"/><rect x="111.6" y="4.1" width="3.8" height="5.4"/><rect x="107.8" y="12.7" width="13.3" height="7"/><rect x="111.6" y="23.1" width="5.8" height="17.4"/><rect x="111.6" y="43.1" width="5.8" height="5.7"/><rect x="124.8" y="0.3" width="23.4" height="42.3"/><path class="gl" d="M126.7 0.3V42.6M133.4 0.3V42.6M139.4 0.3V42.6M145.1 0.3V42.6M124.8 11.8H148.2M124.8 22H148.2M124.8 32.3H148.2"/><rect x="151.75" y="0.5" width="74.8" height="47.9"/><path class="gl" d="M156.65 0.5V48.4M166 0.5V48.4M175.75 0.5V48.4M184.55 0.5V48.4M187.95 0.5V48.4M194.55 0.5V48.4M202.35 0.5V48.4M212.35 0.5V48.4M220.65 0.5V48.4M151.75 12.75H226.55M151.75 24.6H226.55M151.75 37.1H226.55"/></g><g transform="translate(0,52.75)"><rect x="0.5" y="0.5" width="74.9" height="49.3"/><path class="gl" d="M6.4 0.5V49.8M14.8 0.5V49.8M24.8 0.5V49.8M32.8 0.5V49.8M39.4 0.5V49.8M43 0.5V49.8M51.4 0.5V49.8M61.4 0.5V49.8M70.5 0.5V49.8M0.5 12.5H75.4M0.5 25H75.4M0.5 37.25H75.4"/><rect x="78.6" y="7.45" width="25.6" height="42.55"/><path class="gl" d="M81.5 7.45V50M86.7 7.45V50M91.8 7.45V50M97.5 7.45V50M102.6 7.45V50M78.6 17.45H104.2M78.6 27.75H104.2M78.6 38.25H104.2"/><rect x="105.8" y="9.85" width="2.4" height="31.9"/><rect x="105.8" y="20.45" width="6.6" height="8.6"/><rect x="111.6" y="9.55" width="5.8" height="7.4"/><rect x="120.3" y="9.85" width="2.4" height="31.9"/><rect x="116.1" y="20.45" width="6.5" height="8.6"/><rect x="124.5" y="7.45" width="23.4" height="42.55"/><path class="gl" d="M126.3 7.45V50M130.4 7.45V50M135.8 7.45V50M140.6 7.45V50M145.7 7.45V50M124.5 17.45H147.9M124.5 27.75H147.9M124.5 38.25H147.9"/><rect x="151.75" y="-0.15" width="74.8" height="49.95"/><path class="gl" d="M156.65 -0.15V49.8M166 -0.15V49.8M175.75 -0.15V49.8M184.55 -0.15V49.8M187.95 -0.15V49.8M194.55 -0.15V49.8M202.35 -0.15V49.8M212.35 -0.15V49.8M220.65 -0.15V49.8M151.75 11.85H226.55M151.75 24.35H226.55M151.75 36.85H226.55"/></g></g><g transform="translate(949.1,1475.65) scale(-1,-1)"><g><rect x="0.5" y="0.5" width="74.9" height="49.3"/><path class="gl" d="M6.4 0.5V49.8M14.8 0.5V49.8M24.8 0.5V49.8M32.8 0.5V49.8M39.4 0.5V49.8M43 0.5V49.8M51.4 0.5V49.8M61.4 0.5V49.8M70.5 0.5V49.8M0.5 13.75H75.4M0.5 25.9H75.4M0.5 38.4H75.4"/><rect x="79.3" y="0.3" width="23.4" height="42.3"/><path class="gl" d="M82.9 0.3V42.6M88.6 0.3V42.6M94.2 0.3V42.6M100.9 0.3V42.6M79.3 11.8H102.7M79.3 22H102.7M79.3 32.3H102.7"/><rect x="111.6" y="4.1" width="3.8" height="5.4"/><rect x="107.8" y="12.7" width="13.3" height="7"/><rect x="111.6" y="23.1" width="5.8" height="17.4"/><rect x="111.6" y="43.1" width="5.8" height="5.7"/><rect x="124.8" y="0.3" width="23.4" height="42.3"/><path class="gl" d="M126.7 0.3V42.6M133.4 0.3V42.6M139.4 0.3V42.6M145.1 0.3V42.6M124.8 11.8H148.2M124.8 22H148.2M124.8 32.3H148.2"/><rect x="151.75" y="0.5" width="74.8" height="47.9"/><path class="gl" d="M156.65 0.5V48.4M166 0.5V48.4M175.75 0.5V48.4M184.55 0.5V48.4M187.95 0.5V48.4M194.55 0.5V48.4M202.35 0.5V48.4M212.35 0.5V48.4M220.65 0.5V48.4M151.75 12.75H226.55M151.75 24.6H226.55M151.75 37.1H226.55"/></g><g transform="translate(0,52.75)"><rect x="0.5" y="0.5" width="74.9" height="49.3"/><path class="gl" d="M6.4 0.5V49.8M14.8 0.5V49.8M24.8 0.5V49.8M32.8 0.5V49.8M39.4 0.5V49.8M43 0.5V49.8M51.4 0.5V49.8M61.4 0.5V49.8M70.5 0.5V49.8M0.5 12.5H75.4M0.5 25H75.4M0.5 37.25H75.4"/><rect x="78.6" y="7.45" width="25.6" height="42.55"/><path class="gl" d="M81.5 7.45V50M86.7 7.45V50M91.8 7.45V50M97.5 7.45V50M102.6 7.45V50M78.6 17.45H104.2M78.6 27.75H104.2M78.6 38.25H104.2"/><rect x="105.8" y="9.85" width="2.4" height="31.9"/><rect x="105.8" y="20.45" width="6.6" height="8.6"/><rect x="111.6" y="9.55" width="5.8" height="7.4"/><rect x="120.3" y="9.85" width="2.4" height="31.9"/><rect x="116.1" y="20.45" width="6.5" height="8.6"/><rect x="124.5" y="7.45" width="23.4" height="42.55"/><path class="gl" d="M126.3 7.45V50M130.4 7.45V50M135.8 7.45V50M140.6 7.45V50M145.7 7.45V50M124.5 17.45H147.9M124.5 27.75H147.9M124.5 38.25H147.9"/><rect x="151.75" y="-0.15" width="74.8" height="49.95"/><path class="gl" d="M156.65 -0.15V49.8M166 -0.15V49.8M175.75 -0.15V49.8M184.55 -0.15V49.8M187.95 -0.15V49.8M194.55 -0.15V49.8M202.35 -0.15V49.8M212.35 -0.15V49.8M220.65 -0.15V49.8M151.75 11.85H226.55M151.75 24.35H226.55M151.75 36.85H226.55"/></g></g></g>
<text x="1616" y="1788.9" class="t">СВАКС...</text><text x="1616" y="1806.2" class="t">Когда вы заботить</text><text x="1616" y="1823.5" class="t">довольно воровать</text><text x="1616" y="1840.8" class="t">настоящий лучший</text>
<g fill="#dfa96f" stroke="#784421" stroke-width="1.5" transform="translate(1688,53.75)"><rect x="0.55" y="0.35" width="102.6" height="546.7"/><rect x="0.95" y="3.55" width="98.6" height="99.55"/><rect x="0.95" y="152.9" width="98.6" height="99.55"/><rect x="0.95" y="302.15" width="98.6" height="99.95"/><rect x="0.95" y="447.25" width="98.6" height="99.85"/></g>
<g fill="#dfa96f" stroke="#784421" stroke-width="1.5" transform="translate(1688,655.6)"><rect x="0.55" y="0.35" width="102.6" height="546.7"/><rect x="0.95" y="3.55" width="98.6" height="99.55"/><rect x="0.95" y="152.9" width="98.6" height="99.55"/><rect x="0.95" y="302.15" width="98.6" height="99.95"/><rect x="0.95" y="447.25" width="98.6" height="99.85"/></g>
<g fill="#dfa96f" stroke="#784421" stroke-width="1.5" transform="translate(1688,1256.6)"><rect x="0.55" y="0.35" width="102.6" height="546.7"/><rect x="0.95" y="3.55" width="98.6" height="99.55"/><rect x="0.95" y="152.9" width="98.6" height="99.55"/><rect x="0.95" y="302.15" width="98.6" height="99.95"/><rect x="0.95" y="447.25" width="98.6" height="99.85"/></g>
<g fill="#dfa96f" stroke="#784421" stroke-width="1.5" transform="translate(1505.7,1202.75)"><rect x="0.55" y="0.35" width="102.6" height="546.7"/><rect x="0.95" y="3.55" width="98.6" height="99.55"/><rect x="0.95" y="152.9" width="98.6" height="99.55"/><rect x="0.95" y="302.15" width="98.6" height="99.95"/><rect x="0.95" y="447.25" width="98.6" height="99.85"/></g></svg></body></html>
